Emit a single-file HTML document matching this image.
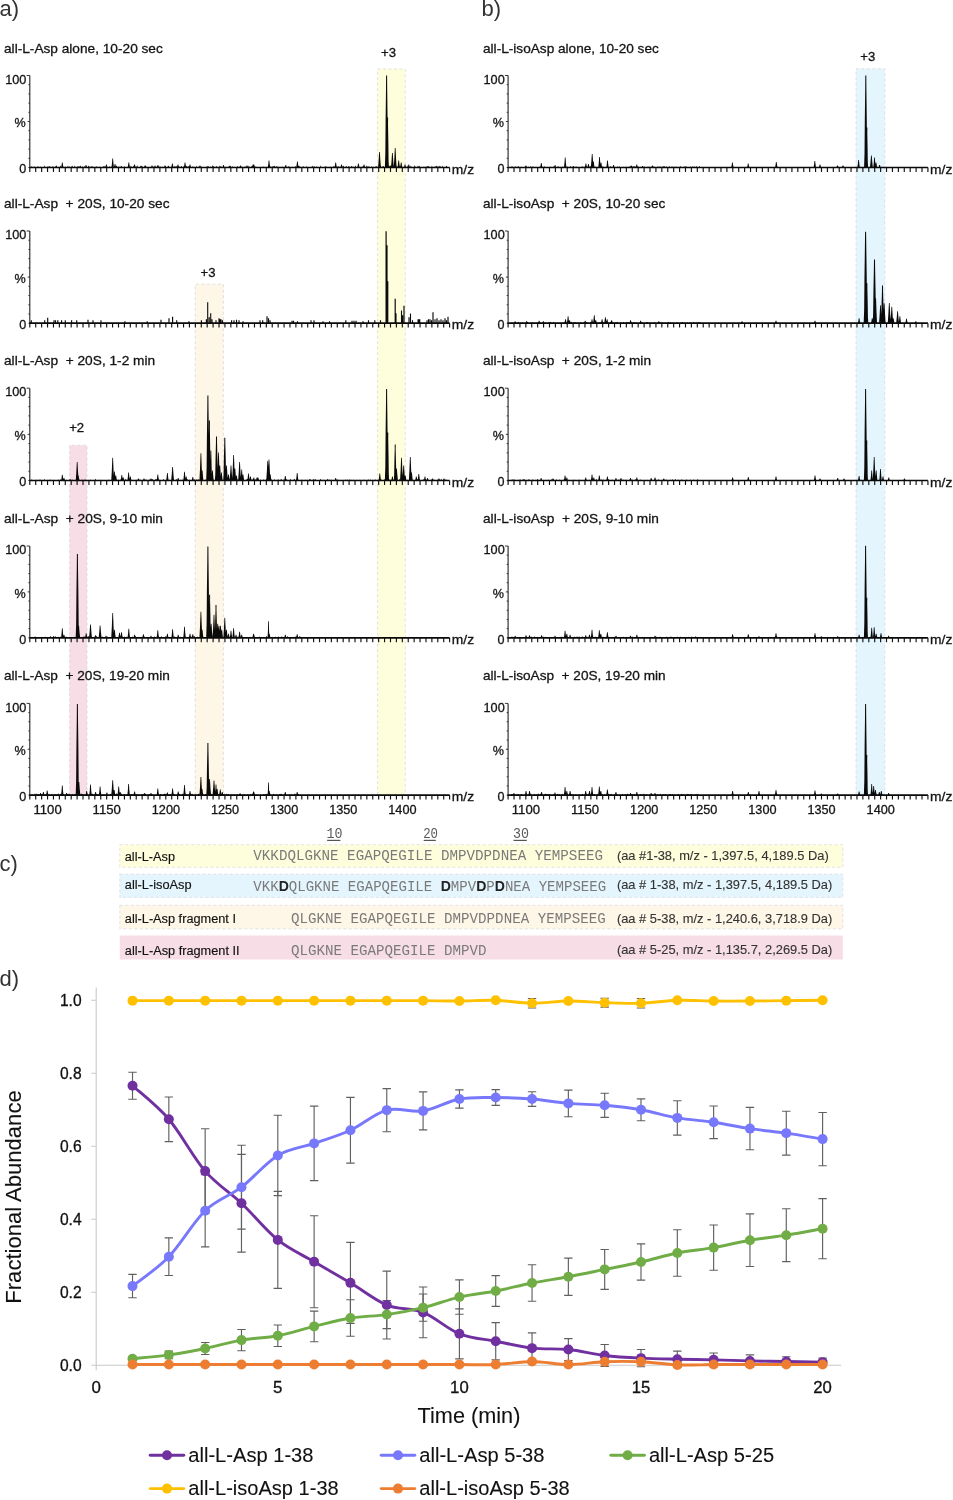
<!DOCTYPE html>
<html lang="en">
<head>
<meta charset="utf-8">
<title>Figure: proteasome digestion of all-L-Asp and all-L-isoAsp peptides</title>
<style>
html,body{margin:0;padding:0;background:#fff;}
body{width:953px;height:1500px;overflow:hidden;}
svg{display:block;font-family:"Liberation Sans", Arial, Helvetica, sans-serif;}
text{white-space:pre;}
</style>
</head>
<body>
<svg width="953" height="1500" viewBox="0 0 953 1500">
<rect width="953" height="1500" fill="#fff"/>
<rect x="377.6" y="69.0" width="27.7" height="726.1" fill="#fefedc"/>
<path d="M377.6 795.1V69.0H405.3V795.1" fill="none" stroke="#d9d9d9" stroke-width="0.8" stroke-dasharray="3 2.5"/>
<rect x="195.3" y="284.2" width="28.1" height="510.9" fill="#fef6e6"/>
<path d="M195.3 795.1V284.2H223.4V795.1" fill="none" stroke="#d9d9d9" stroke-width="0.8" stroke-dasharray="3 2.5"/>
<rect x="69.6" y="445.3" width="17.4" height="349.8" fill="#f7dde6"/>
<path d="M69.6 795.1V445.3H87.0V795.1" fill="none" stroke="#d9d9d9" stroke-width="0.8" stroke-dasharray="3 2.5"/>
<rect x="856.1" y="68.8" width="28.7" height="726.3" fill="#e4f5fe"/>
<path d="M856.1 795.1V68.8H884.8V795.1" fill="none" stroke="#d9d9d9" stroke-width="0.8" stroke-dasharray="3 2.5"/>
<path d="M29.80 75.5V167.5" stroke="#222" stroke-width="1.1" fill="none"/>
<path d="M29.80 167.50h-1.4M29.80 158.30h-1.4M29.80 149.10h-1.4M29.80 139.90h-1.4M29.80 130.70h-1.4M29.80 121.50h-2.2M29.80 112.30h-1.4M29.80 103.10h-1.4M29.80 93.90h-1.4M29.80 84.70h-1.4M29.80 75.50h-3.2" stroke="#222" stroke-width="0.9" fill="none"/>
<path d="M29.30 167.50H449.62" stroke="#0a0a0a" stroke-width="1.7" fill="none"/>
<path d="M29.80 167.50v4.4M35.71 167.50v4.4M41.63 167.50v4.4M47.54 167.50v4.4M53.45 167.50v4.4M59.37 167.50v4.4M65.28 167.50v4.4M71.19 167.50v4.4M77.10 167.50v4.4M83.02 167.50v4.4M88.93 167.50v4.4M94.84 167.50v4.4M100.76 167.50v4.4M106.67 167.50v4.4M112.58 167.50v4.4M118.50 167.50v4.4M124.41 167.50v4.4M130.32 167.50v4.4M136.23 167.50v4.4M142.15 167.50v4.4M148.06 167.50v4.4M153.97 167.50v4.4M159.89 167.50v4.4M165.80 167.50v4.4M171.71 167.50v4.4M177.63 167.50v4.4M183.54 167.50v4.4M189.45 167.50v4.4M195.36 167.50v4.4M201.28 167.50v4.4M207.19 167.50v4.4M213.10 167.50v4.4M219.02 167.50v4.4M224.93 167.50v4.4M230.84 167.50v4.4M236.76 167.50v4.4M242.67 167.50v4.4M248.58 167.50v4.4M254.49 167.50v4.4M260.41 167.50v4.4M266.32 167.50v4.4M272.23 167.50v4.4M278.15 167.50v4.4M284.06 167.50v4.4M289.97 167.50v4.4M295.89 167.50v4.4M301.80 167.50v4.4M307.71 167.50v4.4M313.62 167.50v4.4M319.54 167.50v4.4M325.45 167.50v4.4M331.36 167.50v4.4M337.28 167.50v4.4M343.19 167.50v4.4M349.10 167.50v4.4M355.02 167.50v4.4M360.93 167.50v4.4M366.84 167.50v4.4M372.75 167.50v4.4M378.67 167.50v4.4M384.58 167.50v4.4M390.49 167.50v4.4M396.41 167.50v4.4M402.32 167.50v4.4M408.23 167.50v4.4M414.15 167.50v4.4M420.06 167.50v4.4M425.97 167.50v4.4M431.88 167.50v4.4M437.80 167.50v4.4M443.71 167.50v4.4M449.62 167.50v4.4" stroke="#111" stroke-width="1.15" fill="none"/>
<text x="26.4" y="83.7" font-size="12.8" fill="#141414" stroke="#141414" stroke-width="0.3" text-anchor="end" textLength="21.2" lengthAdjust="spacingAndGlyphs">100</text>
<text x="25.6" y="127.1" font-size="12.8" fill="#141414" stroke="#141414" stroke-width="0.3" text-anchor="end" textLength="11.2" lengthAdjust="spacingAndGlyphs">%</text>
<text x="26.2" y="173.4" font-size="13.0" fill="#141414" stroke="#141414" stroke-width="0.3" text-anchor="end" textLength="7.0" lengthAdjust="spacingAndGlyphs">0</text>
<text x="451.8" y="173.6" font-size="13.5" fill="#141414" stroke="#141414" stroke-width="0.3" textLength="22.3" lengthAdjust="spacingAndGlyphs">m/z</text>
<path d="M61.07 167.50L61.56 165.25L61.95 162.50h0.70L63.04 165.25L63.53 167.50zM84.77 167.50L85.26 166.38L85.65 165.00h0.70L86.74 166.38L87.23 167.50zM105.17 167.50L105.66 166.15L106.05 164.50h0.70L107.14 166.15L107.63 167.50zM111.47 167.50L111.96 163.45L112.35 158.50h0.70L113.44 163.45L113.93 167.50zM113.77 167.50L114.26 165.93L114.65 164.00h0.70L115.74 165.93L116.23 167.50zM127.57 167.50L128.06 165.25L128.45 162.50h0.70L129.54 165.25L130.03 167.50zM133.37 167.50L133.86 166.15L134.25 164.50h0.70L135.34 166.15L135.83 167.50zM143.77 167.50L144.26 166.60L144.65 165.50h0.70L145.74 166.60L146.23 167.50zM150.77 167.50L151.26 166.60L151.65 165.50h0.70L152.74 166.60L153.23 167.50zM156.77 167.50L157.26 166.38L157.65 165.00h0.70L158.74 166.38L159.23 167.50zM163.77 167.50L164.26 166.60L164.65 165.50h0.70L165.74 166.60L166.23 167.50zM171.17 167.50L171.66 165.70L172.05 163.50h0.70L173.14 165.70L173.63 167.50zM176.77 167.50L177.26 166.15L177.65 164.50h0.70L178.74 166.15L179.23 167.50zM183.77 167.50L184.26 165.25L184.65 162.50h0.70L185.74 165.25L186.23 167.50zM188.77 167.50L189.26 166.15L189.65 164.50h0.70L190.74 166.15L191.23 167.50zM198.77 167.50L199.26 166.60L199.65 165.50h0.70L200.74 166.60L201.23 167.50zM206.77 167.50L207.26 166.82L207.65 166.00h0.70L208.74 166.82L209.23 167.50zM222.27 167.50L222.76 166.38L223.15 165.00h0.70L224.24 166.38L224.73 167.50zM239.17 167.50L239.66 166.60L240.05 165.50h0.70L241.14 166.60L241.63 167.50zM245.77 167.50L246.26 166.60L246.65 165.50h0.70L247.74 166.60L248.23 167.50zM251.77 167.50L252.26 166.15L252.65 164.50h0.70L253.74 166.15L254.23 167.50zM252.67 167.50L253.16 166.15L253.55 164.50h0.70L254.64 166.15L255.13 167.50zM267.77 167.50L268.26 164.35L268.65 160.50h0.70L269.74 164.35L270.23 167.50zM284.57 167.50L285.06 166.38L285.45 165.00h0.70L286.54 166.38L287.03 167.50zM296.17 167.50L296.66 164.80L297.05 161.50h0.70L298.14 164.80L298.63 167.50zM334.47 167.50L334.96 165.25L335.35 162.50h0.70L336.44 165.25L336.93 167.50zM340.27 167.50L340.76 166.15L341.15 164.50h0.70L342.24 166.15L342.73 167.50zM357.17 167.50L357.66 165.70L358.05 163.50h0.70L359.14 165.70L359.63 167.50zM362.77 167.50L363.26 166.15L363.65 164.50h0.70L364.74 166.15L365.23 167.50zM378.04 167.50L378.63 160.48L379.15 151.90h0.70L380.37 160.48L380.96 167.50zM384.87 167.50L385.32 153.70L385.60 121.50L386.01 88.38L386.10 75.50h1.00L387.19 88.38L387.60 121.50L387.88 153.70L388.33 167.50zM386.30 167.50L386.64 160.00L386.85 142.50L387.16 124.50L387.10 117.50h1.00L388.04 124.50L388.35 142.50L388.56 160.00L388.90 167.50zM390.94 167.50L391.53 161.02L392.05 153.10h0.70L393.27 161.02L393.86 167.50zM393.74 167.50L394.33 158.77L394.85 148.10h0.70L396.07 158.77L396.66 167.50zM397.47 167.50L397.96 164.35L398.35 160.50h0.70L399.44 164.35L399.93 167.50zM399.97 167.50L400.46 165.25L400.85 162.50h0.70L401.94 165.25L402.43 167.50zM403.77 167.50L404.26 166.15L404.65 164.50h0.70L405.74 166.15L406.23 167.50zM407.57 167.50L408.06 166.15L408.45 164.50h0.70L409.54 166.15L410.03 167.50zM30.88 167.50L31.80 165.99L32.72 167.50zM33.32 167.50L34.53 166.57L35.74 167.50zM37.28 167.50L38.01 165.85L38.73 167.50zM39.78 167.50L40.57 166.38L41.35 167.50zM43.79 167.50L44.43 165.31L45.06 167.50zM47.12 167.50L48.01 165.93L48.89 167.50zM48.91 167.50L49.86 165.82L50.80 167.50zM52.21 167.50L52.91 165.84L53.61 167.50zM54.89 167.50L56.22 165.33L57.54 167.50zM58.45 167.50L59.06 166.83L59.66 167.50zM59.63 167.50L60.46 165.39L61.29 167.50zM61.72 167.50L62.56 165.46L63.39 167.50zM64.56 167.50L65.21 166.20L65.85 167.50zM67.24 167.50L67.96 165.55L68.68 167.50zM69.00 167.50L69.63 166.24L70.26 167.50zM71.03 167.50L72.12 165.59L73.21 167.50zM74.01 167.50L74.72 165.53L75.43 167.50zM76.37 167.50L77.42 166.30L78.47 167.50zM78.09 167.50L78.76 165.66L79.43 167.50zM78.95 167.50L80.26 165.61L81.57 167.50zM81.78 167.50L82.56 166.24L83.35 167.50zM83.65 167.50L84.39 165.91L85.12 167.50zM85.02 167.50L85.74 166.17L86.47 167.50zM87.51 167.50L88.69 165.59L89.87 167.50zM90.20 167.50L91.13 166.34L92.06 167.50zM91.30 167.50L92.15 165.76L92.99 167.50zM93.17 167.50L94.10 166.77L95.04 167.50zM95.60 167.50L96.85 166.28L98.10 167.50zM98.88 167.50L99.87 166.51L100.87 167.50zM102.55 167.50L103.60 166.07L104.66 167.50zM103.85 167.50L104.79 166.12L105.74 167.50zM105.96 167.50L107.00 166.23L108.03 167.50zM108.89 167.50L109.61 166.12L110.34 167.50zM111.02 167.50L111.94 165.35L112.85 167.50zM112.04 167.50L113.04 166.90L114.04 167.50zM113.51 167.50L114.19 166.75L114.87 167.50zM115.59 167.50L116.56 165.31L117.52 167.50zM117.96 167.50L118.93 166.20L119.91 167.50zM120.00 167.50L121.27 165.74L122.55 167.50zM123.28 167.50L124.37 166.22L125.45 167.50zM127.32 167.50L128.09 166.65L128.87 167.50zM129.87 167.50L130.95 165.80L132.03 167.50zM132.76 167.50L133.72 165.57L134.68 167.50zM136.21 167.50L137.14 165.36L138.07 167.50zM139.45 167.50L140.72 165.75L141.98 167.50zM140.68 167.50L141.86 165.44L143.03 167.50zM144.93 167.50L145.74 165.33L146.56 167.50zM147.71 167.50L148.75 166.67L149.80 167.50zM151.65 167.50L152.51 166.59L153.37 167.50zM153.00 167.50L153.75 166.59L154.51 167.50zM153.77 167.50L155.04 165.30L156.30 167.50zM156.31 167.50L157.43 165.71L158.55 167.50zM158.90 167.50L160.00 166.22L161.10 167.50zM161.79 167.50L162.66 166.47L163.54 167.50zM164.79 167.50L165.55 165.90L166.30 167.50zM167.12 167.50L168.38 165.50L169.63 167.50zM170.41 167.50L171.33 166.79L172.25 167.50zM171.81 167.50L172.60 166.81L173.39 167.50zM173.90 167.50L174.97 165.68L176.04 167.50zM175.84 167.50L176.82 165.79L177.80 167.50zM178.41 167.50L179.34 166.48L180.27 167.50zM180.40 167.50L181.36 165.74L182.33 167.50zM182.74 167.50L183.70 166.14L184.66 167.50zM185.57 167.50L186.77 165.75L187.97 167.50zM187.67 167.50L188.99 165.63L190.31 167.50zM192.32 167.50L192.97 165.75L193.62 167.50zM195.90 167.50L196.51 165.56L197.12 167.50zM197.34 167.50L198.49 166.38L199.65 167.50zM200.58 167.50L201.32 166.45L202.06 167.50zM201.63 167.50L202.83 166.75L204.02 167.50zM205.48 167.50L206.64 166.55L207.79 167.50zM209.46 167.50L210.49 166.59L211.52 167.50zM211.55 167.50L212.81 165.34L214.06 167.50zM212.62 167.50L213.85 166.58L215.09 167.50zM215.37 167.50L216.58 166.06L217.78 167.50zM219.02 167.50L219.87 165.37L220.71 167.50zM220.37 167.50L221.01 165.79L221.65 167.50zM222.81 167.50L223.71 165.52L224.61 167.50zM225.79 167.50L226.51 166.63L227.23 167.50zM227.98 167.50L229.33 165.52L230.68 167.50zM229.44 167.50L230.42 165.43L231.41 167.50zM231.44 167.50L232.47 166.26L233.50 167.50zM233.26 167.50L234.51 166.67L235.76 167.50zM236.49 167.50L237.63 165.92L238.78 167.50zM240.37 167.50L241.59 166.62L242.81 167.50zM244.04 167.50L245.06 166.35L246.08 167.50zM246.51 167.50L247.43 166.59L248.36 167.50zM248.15 167.50L248.89 165.41L249.63 167.50zM250.46 167.50L251.79 165.99L253.12 167.50zM254.29 167.50L255.17 166.32L256.06 167.50zM255.49 167.50L256.32 166.82L257.16 167.50zM259.44 167.50L260.17 166.82L260.91 167.50zM262.34 167.50L263.08 166.32L263.82 167.50zM265.88 167.50L266.92 166.83L267.97 167.50zM268.46 167.50L269.21 166.35L269.96 167.50zM269.53 167.50L270.70 166.25L271.86 167.50zM271.84 167.50L273.10 165.66L274.36 167.50zM273.59 167.50L274.62 165.49L275.66 167.50zM275.62 167.50L276.88 166.08L278.15 167.50zM277.74 167.50L279.06 166.75L280.38 167.50zM279.27 167.50L280.42 166.73L281.56 167.50zM281.26 167.50L282.35 166.44L283.44 167.50zM284.74 167.50L286.02 166.35L287.30 167.50zM287.88 167.50L288.88 165.93L289.88 167.50zM288.81 167.50L289.92 166.65L291.03 167.50zM291.92 167.50L293.00 166.74L294.08 167.50zM294.52 167.50L295.42 165.98L296.32 167.50zM295.75 167.50L297.07 166.33L298.40 167.50zM297.64 167.50L298.64 165.52L299.64 167.50zM299.25 167.50L299.87 165.60L300.48 167.50zM302.09 167.50L303.38 166.36L304.67 167.50zM305.49 167.50L306.56 166.33L307.63 167.50zM309.76 167.50L310.52 166.63L311.27 167.50zM311.60 167.50L312.39 165.59L313.17 167.50zM313.09 167.50L314.12 165.92L315.16 167.50zM315.76 167.50L316.38 166.02L317.00 167.50zM316.76 167.50L317.40 166.86L318.04 167.50zM320.02 167.50L320.71 165.33L321.40 167.50zM321.94 167.50L322.87 166.88L323.79 167.50zM324.57 167.50L325.85 165.90L327.13 167.50zM327.62 167.50L328.51 166.82L329.39 167.50zM330.26 167.50L330.88 166.36L331.51 167.50zM332.63 167.50L333.76 166.12L334.90 167.50zM335.06 167.50L335.86 166.79L336.66 167.50zM336.67 167.50L337.39 166.16L338.10 167.50zM337.92 167.50L338.62 166.06L339.33 167.50zM338.81 167.50L339.94 166.71L341.07 167.50zM342.32 167.50L343.36 165.60L344.39 167.50zM345.34 167.50L346.26 165.69L347.18 167.50zM347.72 167.50L348.79 165.76L349.87 167.50zM350.62 167.50L351.62 165.87L352.62 167.50zM352.14 167.50L353.26 166.41L354.38 167.50zM354.64 167.50L355.52 165.53L356.40 167.50zM357.70 167.50L358.52 166.72L359.35 167.50zM361.01 167.50L362.08 166.62L363.15 167.50zM362.22 167.50L363.16 165.93L364.10 167.50zM365.68 167.50L366.86 165.58L368.04 167.50zM368.16 167.50L368.87 165.83L369.59 167.50zM370.39 167.50L371.34 166.28L372.30 167.50zM372.18 167.50L373.17 166.56L374.16 167.50zM374.81 167.50L376.13 166.00L377.44 167.50zM377.72 167.50L378.80 166.66L379.88 167.50zM380.05 167.50L380.75 165.40L381.44 167.50zM381.79 167.50L383.12 165.82L384.45 167.50zM384.50 167.50L385.69 166.29L386.87 167.50zM387.90 167.50L389.05 165.44L390.19 167.50zM389.13 167.50L390.43 165.31L391.73 167.50zM391.51 167.50L392.73 165.85L393.96 167.50zM395.82 167.50L396.49 165.74L397.15 167.50zM396.75 167.50L397.69 166.31L398.63 167.50zM398.45 167.50L399.62 165.70L400.80 167.50zM401.08 167.50L401.82 165.78L402.57 167.50zM404.96 167.50L405.68 166.51L406.39 167.50zM406.77 167.50L407.82 165.52L408.87 167.50zM409.99 167.50L410.88 165.59L411.77 167.50zM413.76 167.50L414.76 165.32L415.76 167.50zM416.96 167.50L418.01 165.53L419.05 167.50zM418.46 167.50L419.40 165.85L420.34 167.50zM422.35 167.50L422.96 166.57L423.57 167.50zM423.61 167.50L424.50 166.63L425.39 167.50zM425.08 167.50L426.12 166.37L427.16 167.50zM426.72 167.50L427.59 166.12L428.45 167.50zM427.62 167.50L428.60 165.82L429.58 167.50zM431.29 167.50L431.93 165.50L432.57 167.50zM433.82 167.50L435.07 166.17L436.33 167.50zM435.50 167.50L436.42 165.56L437.34 167.50zM436.44 167.50L437.70 166.16L438.95 167.50zM438.26 167.50L438.92 166.29L439.58 167.50zM438.92 167.50L439.94 165.58L440.95 167.50zM441.99 167.50L442.65 165.46L443.31 167.50zM445.24 167.50L446.48 165.70L447.72 167.50z" fill="#0a0a0a"/>
<text x="4.0" y="52.6" font-size="13.5" fill="#141414" stroke="#141414" stroke-width="0.3" textLength="158.8" lengthAdjust="spacingAndGlyphs" xml:space="preserve">all-L-Asp alone, 10-20 sec</text>
<path d="M508.10 75.5V167.5" stroke="#222" stroke-width="1.1" fill="none"/>
<path d="M508.10 167.50h-1.4M508.10 158.30h-1.4M508.10 149.10h-1.4M508.10 139.90h-1.4M508.10 130.70h-1.4M508.10 121.50h-2.2M508.10 112.30h-1.4M508.10 103.10h-1.4M508.10 93.90h-1.4M508.10 84.70h-1.4M508.10 75.50h-3.2" stroke="#222" stroke-width="0.9" fill="none"/>
<path d="M507.60 167.50H927.92" stroke="#0a0a0a" stroke-width="1.7" fill="none"/>
<path d="M508.10 167.50v4.4M514.01 167.50v4.4M519.93 167.50v4.4M525.84 167.50v4.4M531.75 167.50v4.4M537.67 167.50v4.4M543.58 167.50v4.4M549.49 167.50v4.4M555.40 167.50v4.4M561.32 167.50v4.4M567.23 167.50v4.4M573.14 167.50v4.4M579.06 167.50v4.4M584.97 167.50v4.4M590.88 167.50v4.4M596.80 167.50v4.4M602.71 167.50v4.4M608.62 167.50v4.4M614.53 167.50v4.4M620.45 167.50v4.4M626.36 167.50v4.4M632.27 167.50v4.4M638.19 167.50v4.4M644.10 167.50v4.4M650.01 167.50v4.4M655.93 167.50v4.4M661.84 167.50v4.4M667.75 167.50v4.4M673.66 167.50v4.4M679.58 167.50v4.4M685.49 167.50v4.4M691.40 167.50v4.4M697.32 167.50v4.4M703.23 167.50v4.4M709.14 167.50v4.4M715.06 167.50v4.4M720.97 167.50v4.4M726.88 167.50v4.4M732.79 167.50v4.4M738.71 167.50v4.4M744.62 167.50v4.4M750.53 167.50v4.4M756.45 167.50v4.4M762.36 167.50v4.4M768.27 167.50v4.4M774.19 167.50v4.4M780.10 167.50v4.4M786.01 167.50v4.4M791.92 167.50v4.4M797.84 167.50v4.4M803.75 167.50v4.4M809.66 167.50v4.4M815.58 167.50v4.4M821.49 167.50v4.4M827.40 167.50v4.4M833.32 167.50v4.4M839.23 167.50v4.4M845.14 167.50v4.4M851.05 167.50v4.4M856.97 167.50v4.4M862.88 167.50v4.4M868.79 167.50v4.4M874.71 167.50v4.4M880.62 167.50v4.4M886.53 167.50v4.4M892.45 167.50v4.4M898.36 167.50v4.4M904.27 167.50v4.4M910.18 167.50v4.4M916.10 167.50v4.4M922.01 167.50v4.4M927.92 167.50v4.4" stroke="#111" stroke-width="1.15" fill="none"/>
<text x="504.7" y="83.7" font-size="12.8" fill="#141414" stroke="#141414" stroke-width="0.3" text-anchor="end" textLength="21.2" lengthAdjust="spacingAndGlyphs">100</text>
<text x="503.9" y="127.1" font-size="12.8" fill="#141414" stroke="#141414" stroke-width="0.3" text-anchor="end" textLength="11.2" lengthAdjust="spacingAndGlyphs">%</text>
<text x="504.5" y="173.4" font-size="13.0" fill="#141414" stroke="#141414" stroke-width="0.3" text-anchor="end" textLength="7.0" lengthAdjust="spacingAndGlyphs">0</text>
<text x="930.1" y="173.6" font-size="13.5" fill="#141414" stroke="#141414" stroke-width="0.3" textLength="22.3" lengthAdjust="spacingAndGlyphs">m/z</text>
<path d="M524.67 167.50L525.16 166.60L525.55 165.50h0.70L526.64 166.60L527.13 167.50zM540.07 167.50L540.56 165.47L540.95 163.00h0.70L542.04 165.47L542.53 167.50zM553.87 167.50L554.36 166.38L554.75 165.00h0.70L555.84 166.38L556.33 167.50zM563.97 167.50L564.46 163.00L564.85 157.50h0.70L565.94 163.00L566.43 167.50zM572.07 167.50L572.56 166.82L572.95 166.00h0.70L574.04 166.82L574.53 167.50zM584.67 167.50L585.16 165.70L585.55 163.50h0.70L586.64 165.70L587.13 167.50zM587.17 167.50L587.66 165.93L588.05 164.00h0.70L589.14 165.93L589.63 167.50zM590.74 167.50L591.33 161.47L591.85 154.10h0.70L593.07 161.47L593.66 167.50zM592.17 167.50L592.66 164.80L593.05 161.50h0.70L594.14 164.80L594.63 167.50zM598.27 167.50L598.76 162.78L599.15 157.00h0.70L600.24 162.78L600.73 167.50zM599.77 167.50L600.26 165.25L600.65 162.50h0.70L601.74 165.25L602.23 167.50zM606.27 167.50L606.76 164.35L607.15 160.50h0.70L608.24 164.35L608.73 167.50zM612.37 167.50L612.86 166.38L613.25 165.00h0.70L614.34 166.38L614.83 167.50zM629.97 167.50L630.46 166.60L630.85 165.50h0.70L631.94 166.60L632.43 167.50zM635.57 167.50L636.06 166.15L636.45 164.50h0.70L637.54 166.15L638.03 167.50zM641.27 167.50L641.76 166.82L642.15 166.00h0.70L643.24 166.82L643.73 167.50zM651.37 167.50L651.86 166.60L652.25 165.50h0.70L653.34 166.60L653.83 167.50zM662.77 167.50L663.26 166.82L663.65 166.00h0.70L664.74 166.82L665.23 167.50zM731.17 167.50L731.66 165.25L732.05 162.50h0.70L733.14 165.25L733.63 167.50zM746.97 167.50L747.46 165.70L747.85 163.50h0.70L748.94 165.70L749.43 167.50zM775.07 167.50L775.56 165.03L775.95 162.00h0.70L777.04 165.03L777.53 167.50zM813.57 167.50L814.06 164.57L814.45 161.00h0.70L815.54 164.57L816.03 167.50zM818.77 167.50L819.26 166.15L819.65 164.50h0.70L820.74 166.15L821.23 167.50zM836.27 167.50L836.76 166.60L837.15 165.50h0.70L838.24 166.60L838.73 167.50zM841.77 167.50L842.26 166.60L842.65 165.50h0.70L843.74 166.60L844.23 167.50zM857.37 167.50L857.86 164.12L858.25 160.00h0.70L859.34 164.12L859.83 167.50zM864.07 167.50L864.52 153.70L864.80 121.50L865.21 88.38L865.30 75.50h1.00L866.39 88.38L866.80 121.50L867.08 153.70L867.53 167.50zM865.71 167.50L866.02 161.50L866.21 147.50L866.50 133.10L866.40 127.50h1.00L867.30 133.10L867.59 147.50L867.78 161.50L868.09 167.50zM869.94 167.50L870.53 162.10L871.05 155.50h0.70L872.27 162.10L872.86 167.50zM873.27 167.50L873.76 163.00L874.15 157.50h0.70L875.24 163.00L875.73 167.50zM874.77 167.50L875.26 165.25L875.65 162.50h0.70L876.74 165.25L877.23 167.50zM878.37 167.50L878.86 166.38L879.25 165.00h0.70L880.34 166.38L880.83 167.50zM510.89 167.50L512.00 165.99L513.11 167.50zM514.50 167.50L515.30 166.00L516.09 167.50zM516.95 167.50L518.21 166.00L519.46 167.50zM520.02 167.50L520.93 166.73L521.83 167.50zM524.07 167.50L524.91 166.80L525.75 167.50zM528.00 167.50L528.76 166.45L529.51 167.50zM529.86 167.50L530.71 165.99L531.56 167.50zM531.79 167.50L532.99 166.27L534.19 167.50zM534.44 167.50L535.47 166.82L536.50 167.50zM535.83 167.50L536.57 166.81L537.31 167.50zM538.53 167.50L539.65 166.62L540.77 167.50zM540.52 167.50L541.14 166.78L541.76 167.50zM543.49 167.50L544.26 166.04L545.02 167.50zM544.89 167.50L545.97 166.89L547.06 167.50zM546.79 167.50L547.87 166.76L548.96 167.50zM549.96 167.50L550.67 166.45L551.39 167.50zM552.66 167.50L553.59 166.34L554.51 167.50zM553.84 167.50L555.08 165.97L556.33 167.50zM557.12 167.50L558.15 165.90L559.19 167.50zM559.13 167.50L560.19 166.78L561.24 167.50zM561.40 167.50L562.75 166.46L564.09 167.50zM565.00 167.50L566.26 166.79L567.53 167.50zM566.43 167.50L567.27 166.25L568.11 167.50zM569.46 167.50L570.46 165.95L571.46 167.50zM572.65 167.50L573.75 166.85L574.85 167.50zM574.25 167.50L575.10 166.44L575.95 167.50zM575.65 167.50L576.32 166.15L576.99 167.50zM577.00 167.50L578.09 166.81L579.19 167.50zM579.37 167.50L580.00 166.86L580.62 167.50zM581.04 167.50L581.65 166.39L582.26 167.50zM581.73 167.50L582.73 166.23L583.72 167.50zM583.44 167.50L584.13 166.59L584.83 167.50zM585.19 167.50L585.96 166.51L586.72 167.50zM586.72 167.50L587.55 166.67L588.37 167.50zM589.13 167.50L590.21 166.01L591.30 167.50zM591.82 167.50L592.56 166.90L593.30 167.50zM594.23 167.50L595.46 166.49L596.70 167.50zM598.31 167.50L599.19 166.60L600.06 167.50zM600.41 167.50L601.08 166.22L601.76 167.50zM602.03 167.50L602.91 166.02L603.79 167.50zM605.59 167.50L606.82 166.50L608.05 167.50zM608.18 167.50L609.21 166.80L610.24 167.50zM609.72 167.50L610.84 165.98L611.97 167.50zM612.42 167.50L613.43 165.98L614.44 167.50zM616.60 167.50L617.33 166.19L618.07 167.50zM618.54 167.50L619.21 166.05L619.89 167.50zM622.00 167.50L623.16 166.86L624.32 167.50zM624.96 167.50L626.01 166.49L627.06 167.50zM627.95 167.50L628.76 166.54L629.57 167.50zM628.65 167.50L629.91 166.24L631.17 167.50zM631.14 167.50L632.04 166.04L632.93 167.50zM632.50 167.50L633.80 166.10L635.09 167.50zM634.24 167.50L635.07 166.03L635.91 167.50zM637.06 167.50L638.40 166.61L639.74 167.50zM639.77 167.50L640.41 166.69L641.05 167.50zM640.60 167.50L641.81 166.81L643.03 167.50zM642.09 167.50L642.87 166.78L643.65 167.50zM643.69 167.50L644.30 166.12L644.90 167.50zM646.63 167.50L647.34 166.55L648.05 167.50zM648.25 167.50L649.03 166.37L649.82 167.50zM650.20 167.50L651.21 166.51L652.21 167.50zM653.25 167.50L654.31 166.61L655.37 167.50zM656.28 167.50L657.46 166.60L658.63 167.50zM657.84 167.50L658.71 166.41L659.57 167.50zM658.84 167.50L660.08 166.24L661.32 167.50zM661.26 167.50L662.54 166.55L663.81 167.50zM665.49 167.50L666.51 166.27L667.53 167.50zM668.31 167.50L669.43 166.20L670.54 167.50zM670.88 167.50L672.04 166.15L673.20 167.50zM674.10 167.50L674.98 166.37L675.86 167.50zM675.79 167.50L676.62 166.39L677.45 167.50zM677.75 167.50L679.03 166.72L680.31 167.50zM679.39 167.50L680.42 166.02L681.44 167.50zM683.42 167.50L684.15 166.02L684.88 167.50zM684.88 167.50L685.97 165.90L687.07 167.50zM686.56 167.50L687.23 166.64L687.90 167.50zM688.51 167.50L689.14 166.82L689.77 167.50zM689.14 167.50L690.27 166.43L691.41 167.50zM691.71 167.50L692.80 166.23L693.89 167.50zM693.23 167.50L694.20 166.20L695.18 167.50zM695.52 167.50L696.46 165.94L697.40 167.50zM698.55 167.50L699.52 166.12L700.48 167.50z" fill="#0a0a0a"/>
<text x="483.0" y="52.6" font-size="13.5" fill="#141414" stroke="#141414" stroke-width="0.3" textLength="175.8" lengthAdjust="spacingAndGlyphs" xml:space="preserve">all-L-isoAsp alone, 10-20 sec</text>
<path d="M29.80 231.0V323.2" stroke="#222" stroke-width="1.1" fill="none"/>
<path d="M29.80 323.20h-1.4M29.80 313.98h-1.4M29.80 304.76h-1.4M29.80 295.54h-1.4M29.80 286.32h-1.4M29.80 277.10h-2.2M29.80 267.88h-1.4M29.80 258.66h-1.4M29.80 249.44h-1.4M29.80 240.22h-1.4M29.80 231.00h-3.2" stroke="#222" stroke-width="0.9" fill="none"/>
<path d="M29.30 323.20H449.62" stroke="#0a0a0a" stroke-width="1.7" fill="none"/>
<path d="M29.80 323.20v4.4M35.71 323.20v4.4M41.63 323.20v4.4M47.54 323.20v4.4M53.45 323.20v4.4M59.37 323.20v4.4M65.28 323.20v4.4M71.19 323.20v4.4M77.10 323.20v4.4M83.02 323.20v4.4M88.93 323.20v4.4M94.84 323.20v4.4M100.76 323.20v4.4M106.67 323.20v4.4M112.58 323.20v4.4M118.50 323.20v4.4M124.41 323.20v4.4M130.32 323.20v4.4M136.23 323.20v4.4M142.15 323.20v4.4M148.06 323.20v4.4M153.97 323.20v4.4M159.89 323.20v4.4M165.80 323.20v4.4M171.71 323.20v4.4M177.63 323.20v4.4M183.54 323.20v4.4M189.45 323.20v4.4M195.36 323.20v4.4M201.28 323.20v4.4M207.19 323.20v4.4M213.10 323.20v4.4M219.02 323.20v4.4M224.93 323.20v4.4M230.84 323.20v4.4M236.76 323.20v4.4M242.67 323.20v4.4M248.58 323.20v4.4M254.49 323.20v4.4M260.41 323.20v4.4M266.32 323.20v4.4M272.23 323.20v4.4M278.15 323.20v4.4M284.06 323.20v4.4M289.97 323.20v4.4M295.89 323.20v4.4M301.80 323.20v4.4M307.71 323.20v4.4M313.62 323.20v4.4M319.54 323.20v4.4M325.45 323.20v4.4M331.36 323.20v4.4M337.28 323.20v4.4M343.19 323.20v4.4M349.10 323.20v4.4M355.02 323.20v4.4M360.93 323.20v4.4M366.84 323.20v4.4M372.75 323.20v4.4M378.67 323.20v4.4M384.58 323.20v4.4M390.49 323.20v4.4M396.41 323.20v4.4M402.32 323.20v4.4M408.23 323.20v4.4M414.15 323.20v4.4M420.06 323.20v4.4M425.97 323.20v4.4M431.88 323.20v4.4M437.80 323.20v4.4M443.71 323.20v4.4M449.62 323.20v4.4" stroke="#111" stroke-width="1.15" fill="none"/>
<text x="26.4" y="239.2" font-size="12.8" fill="#141414" stroke="#141414" stroke-width="0.3" text-anchor="end" textLength="21.2" lengthAdjust="spacingAndGlyphs">100</text>
<text x="25.6" y="282.7" font-size="12.8" fill="#141414" stroke="#141414" stroke-width="0.3" text-anchor="end" textLength="11.2" lengthAdjust="spacingAndGlyphs">%</text>
<text x="26.2" y="329.1" font-size="13.0" fill="#141414" stroke="#141414" stroke-width="0.3" text-anchor="end" textLength="7.0" lengthAdjust="spacingAndGlyphs">0</text>
<text x="451.8" y="329.3" font-size="13.5" fill="#141414" stroke="#141414" stroke-width="0.3" textLength="22.3" lengthAdjust="spacingAndGlyphs">m/z</text>
<path d="M30.73 323.20v-3.00h1.15v3.00zM44.12 323.20v-3.00h1.15v3.00zM47.12 323.20v-5.50h1.15v5.50zM53.42 323.20v-3.00h1.15v3.00zM54.92 323.20v-3.00h1.15v3.00zM57.22 323.20v-3.00h1.15v3.00zM61.02 323.20v-3.00h1.15v3.00zM64.72 323.20v-3.00h1.15v3.00zM71.02 323.20v-3.00h1.15v3.00zM76.12 323.20v-3.00h1.15v3.00zM87.42 323.20v-3.50h1.15v3.50zM92.42 323.20v-3.00h1.15v3.00zM100.42 323.20v-3.00h1.15v3.00zM124.42 323.20v-2.00h1.15v2.00zM146.62 323.20v-2.00h1.15v2.00zM160.43 323.20v-3.50h1.15v3.50zM168.43 323.20v-5.00h1.15v5.00zM172.03 323.20v-6.50h1.15v6.50zM176.12 323.20v-3.00h1.15v3.00zM188.43 323.20v-2.00h1.15v2.00zM200.83 323.20v-3.00h1.15v3.00zM205.83 323.20v-4.00h1.15v4.00zM207.15 323.20v-21.00h1.10v21.00zM208.62 323.20v-6.00h1.15v6.00zM210.15 323.20v-10.00h1.10v10.00zM211.43 323.20v-4.00h1.15v4.00zM215.43 323.20v-3.00h1.15v3.00zM218.43 323.20v-5.00h1.15v5.00zM219.43 323.20v-4.00h1.15v4.00zM220.43 323.20v-4.00h1.15v4.00zM221.93 323.20v-3.00h1.15v3.00zM231.03 323.20v-3.00h1.15v3.00zM233.43 323.20v-3.00h1.15v3.00zM235.93 323.20v-3.50h1.15v3.50zM238.43 323.20v-3.00h1.15v3.00zM242.43 323.20v-2.00h1.15v2.00zM259.43 323.20v-3.00h1.15v3.00zM262.12 323.20v-3.00h1.15v3.00zM266.43 323.20v-7.00h1.15v7.00zM267.93 323.20v-5.00h1.15v5.00zM269.43 323.20v-3.00h1.15v3.00zM291.43 323.20v-2.50h1.15v2.50zM292.93 323.20v-2.50h1.15v2.50zM296.93 323.20v-2.00h1.15v2.00zM310.43 323.20v-3.00h1.15v3.00zM313.43 323.20v-3.00h1.15v3.00zM322.43 323.20v-2.00h1.15v2.00zM328.93 323.20v-2.00h1.15v2.00zM345.23 323.20v-3.00h1.15v3.00zM351.43 323.20v-2.50h1.15v2.50zM353.43 323.20v-2.50h1.15v2.50zM355.43 323.20v-2.50h1.15v2.50zM362.43 323.20v-2.00h1.15v2.00zM367.93 323.20v-3.00h1.15v3.00zM374.23 323.20v-3.00h1.15v3.00zM379.93 323.20v-3.00h1.15v3.00zM385.50 323.20v-92.00h1.20v92.00zM386.60 323.20v-78.00h1.00v78.00zM387.45 323.20v-42.00h0.90v42.00zM394.60 323.20v-24.40h1.20v24.40zM395.65 323.20v-10.00h0.90v10.00zM400.95 323.20v-12.80h1.10v12.80zM402.03 323.20v-8.00h1.15v8.00zM403.40 323.20v-17.40h1.20v17.40zM408.43 323.20v-6.00h1.15v6.00zM409.95 323.20v-9.80h1.10v9.80zM411.93 323.20v-3.00h1.15v3.00zM417.50 323.20v-4.00h1.60v4.00zM418.70 323.20v-4.00h1.60v4.00zM426.43 323.20v-3.00h1.15v3.00zM427.93 323.20v-4.00h1.15v4.00zM429.43 323.20v-4.00h1.15v4.00zM430.93 323.20v-3.00h1.15v3.00zM432.43 323.20v-11.00h1.15v11.00zM434.43 323.20v-4.00h1.15v4.00zM436.43 323.20v-5.00h1.15v5.00zM438.43 323.20v-3.00h1.15v3.00zM440.43 323.20v-4.00h1.15v4.00zM442.43 323.20v-3.00h1.15v3.00zM444.43 323.20v-5.00h1.15v5.00zM445.93 323.20v-3.00h1.15v3.00zM447.43 323.20v-6.50h1.15v6.50z" fill="#0a0a0a"/>
<text x="4.0" y="207.8" font-size="13.5" fill="#141414" stroke="#141414" stroke-width="0.3" textLength="165.5" lengthAdjust="spacingAndGlyphs" xml:space="preserve">all-L-Asp  + 20S, 10-20 sec</text>
<path d="M508.10 231.0V323.2" stroke="#222" stroke-width="1.1" fill="none"/>
<path d="M508.10 323.20h-1.4M508.10 313.98h-1.4M508.10 304.76h-1.4M508.10 295.54h-1.4M508.10 286.32h-1.4M508.10 277.10h-2.2M508.10 267.88h-1.4M508.10 258.66h-1.4M508.10 249.44h-1.4M508.10 240.22h-1.4M508.10 231.00h-3.2" stroke="#222" stroke-width="0.9" fill="none"/>
<path d="M507.60 323.20H927.92" stroke="#0a0a0a" stroke-width="1.7" fill="none"/>
<path d="M508.10 323.20v4.4M514.01 323.20v4.4M519.93 323.20v4.4M525.84 323.20v4.4M531.75 323.20v4.4M537.67 323.20v4.4M543.58 323.20v4.4M549.49 323.20v4.4M555.40 323.20v4.4M561.32 323.20v4.4M567.23 323.20v4.4M573.14 323.20v4.4M579.06 323.20v4.4M584.97 323.20v4.4M590.88 323.20v4.4M596.80 323.20v4.4M602.71 323.20v4.4M608.62 323.20v4.4M614.53 323.20v4.4M620.45 323.20v4.4M626.36 323.20v4.4M632.27 323.20v4.4M638.19 323.20v4.4M644.10 323.20v4.4M650.01 323.20v4.4M655.93 323.20v4.4M661.84 323.20v4.4M667.75 323.20v4.4M673.66 323.20v4.4M679.58 323.20v4.4M685.49 323.20v4.4M691.40 323.20v4.4M697.32 323.20v4.4M703.23 323.20v4.4M709.14 323.20v4.4M715.06 323.20v4.4M720.97 323.20v4.4M726.88 323.20v4.4M732.79 323.20v4.4M738.71 323.20v4.4M744.62 323.20v4.4M750.53 323.20v4.4M756.45 323.20v4.4M762.36 323.20v4.4M768.27 323.20v4.4M774.19 323.20v4.4M780.10 323.20v4.4M786.01 323.20v4.4M791.92 323.20v4.4M797.84 323.20v4.4M803.75 323.20v4.4M809.66 323.20v4.4M815.58 323.20v4.4M821.49 323.20v4.4M827.40 323.20v4.4M833.32 323.20v4.4M839.23 323.20v4.4M845.14 323.20v4.4M851.05 323.20v4.4M856.97 323.20v4.4M862.88 323.20v4.4M868.79 323.20v4.4M874.71 323.20v4.4M880.62 323.20v4.4M886.53 323.20v4.4M892.45 323.20v4.4M898.36 323.20v4.4M904.27 323.20v4.4M910.18 323.20v4.4M916.10 323.20v4.4M922.01 323.20v4.4M927.92 323.20v4.4" stroke="#111" stroke-width="1.15" fill="none"/>
<text x="504.7" y="239.2" font-size="12.8" fill="#141414" stroke="#141414" stroke-width="0.3" text-anchor="end" textLength="21.2" lengthAdjust="spacingAndGlyphs">100</text>
<text x="503.9" y="282.7" font-size="12.8" fill="#141414" stroke="#141414" stroke-width="0.3" text-anchor="end" textLength="11.2" lengthAdjust="spacingAndGlyphs">%</text>
<text x="504.5" y="329.1" font-size="13.0" fill="#141414" stroke="#141414" stroke-width="0.3" text-anchor="end" textLength="7.0" lengthAdjust="spacingAndGlyphs">0</text>
<text x="930.1" y="329.3" font-size="13.5" fill="#141414" stroke="#141414" stroke-width="0.3" textLength="22.3" lengthAdjust="spacingAndGlyphs">m/z</text>
<path d="M513.96 323.20L514.45 322.30L514.84 321.20h0.70L515.93 322.30L516.42 323.20zM525.29 323.20L525.78 322.30L526.17 321.20h0.70L527.26 322.30L527.76 323.20zM537.89 323.20L538.38 322.07L538.77 320.70h0.70L539.86 322.07L540.35 323.20zM542.17 323.20L542.66 322.30L543.05 321.20h0.70L544.14 322.30L544.63 323.20zM564.33 323.20L564.83 321.40L565.22 319.20h0.70L566.31 321.40L566.80 323.20zM566.85 323.20L567.35 320.05L567.74 316.20h0.70L568.82 320.05L569.32 323.20zM568.36 323.20L568.86 321.85L569.25 320.20h0.70L570.34 321.85L570.83 323.20zM583.98 323.20L584.47 322.07L584.86 320.70h0.70L585.95 322.07L586.45 323.20zM590.78 323.20L591.28 321.40L591.67 319.20h0.70L592.75 321.40L593.25 323.20zM593.05 323.20L593.54 319.60L593.93 315.20h0.70L595.02 319.60L595.51 323.20zM594.56 323.20L595.05 321.85L595.44 320.20h0.70L596.53 321.85L597.03 323.20zM600.86 323.20L601.35 321.40L601.74 319.20h0.70L602.83 321.40L603.32 323.20zM604.13 323.20L604.63 320.50L605.02 317.20h0.70L606.10 320.50L606.60 323.20zM605.90 323.20L606.39 321.40L606.78 319.20h0.70L607.87 321.40L608.36 323.20zM610.43 323.20L610.92 321.85L611.31 320.20h0.70L612.40 321.85L612.89 323.20zM629.32 323.20L629.81 321.85L630.20 320.20h0.70L631.29 321.85L631.79 323.20zM639.40 323.20L639.89 322.07L640.28 320.70h0.70L641.37 322.07L641.86 323.20zM657.53 323.20L658.03 322.30L658.42 321.20h0.70L659.50 322.30L660.00 323.20zM740.77 323.20L741.26 322.30L741.65 321.20h0.70L742.74 322.30L743.23 323.20zM774.77 323.20L775.26 322.07L775.65 320.70h0.70L776.74 322.07L777.23 323.20zM813.77 323.20L814.26 322.07L814.65 320.70h0.70L815.74 322.07L816.23 323.20zM857.87 323.20L858.36 320.95L858.75 318.20h0.70L859.84 320.95L860.33 323.20zM863.66 323.20L864.16 309.49L864.47 277.50L864.94 244.60L865.10 231.80h1.00L866.26 244.60L866.73 277.50L867.04 309.49L867.54 323.20zM865.50 323.20L865.86 317.20L866.09 303.20L866.42 288.80L866.40 283.20h1.00L867.38 288.80L867.71 303.20L867.94 317.20L868.30 323.20zM870.97 323.20L871.46 320.95L871.85 318.20h0.70L872.94 320.95L873.43 323.20zM872.66 323.20L873.14 313.64L873.44 291.35L873.88 268.42L874.00 259.50h1.00L875.12 268.42L875.56 291.35L875.86 313.64L876.34 323.20zM874.36 323.20L874.89 311.95L875.35 298.20h0.70L876.51 311.95L877.04 323.20zM879.04 323.20L879.63 315.10L880.15 305.20h0.70L881.37 315.10L881.96 323.20zM880.88 323.20L881.30 317.53L881.56 304.30L881.95 290.69L882.00 285.40h1.00L883.05 290.69L883.44 304.30L883.70 317.53L884.12 323.20zM882.74 323.20L883.33 314.20L883.85 303.20h0.70L885.07 314.20L885.66 323.20zM887.73 323.20L888.36 314.11L888.95 303.00h0.70L890.24 314.11L890.87 323.20zM890.34 323.20L890.93 315.82L891.45 306.80h0.70L892.67 315.82L893.26 323.20zM892.07 323.20L892.56 320.95L892.95 318.20h0.70L894.04 320.95L894.53 323.20zM896.14 323.20L896.73 317.80L897.25 311.20h0.70L898.47 317.80L899.06 323.20zM898.67 323.20L899.16 320.05L899.55 316.20h0.70L900.64 320.05L901.13 323.20zM905.27 323.20L905.76 321.18L906.15 318.70h0.70L907.24 321.18L907.73 323.20zM914.57 323.20L915.06 322.30L915.45 321.20h0.70L916.54 322.30L917.03 323.20zM510.88 323.20L512.00 322.44L513.12 323.20zM514.14 323.20L514.90 322.12L515.67 323.20zM517.30 323.20L518.28 321.79L519.27 323.20zM520.20 323.20L520.80 322.36L521.40 323.20zM522.26 323.20L522.91 322.01L523.56 323.20zM525.52 323.20L526.29 322.37L527.07 323.20zM526.27 323.20L527.42 321.60L528.57 323.20zM530.42 323.20L531.04 321.98L531.67 323.20zM532.34 323.20L533.03 322.10L533.72 323.20zM536.17 323.20L536.89 322.23L537.60 323.20zM539.04 323.20L540.34 322.48L541.64 323.20zM541.84 323.20L542.70 322.05L543.56 323.20zM544.53 323.20L545.15 322.41L545.78 323.20zM547.57 323.20L548.75 322.37L549.94 323.20zM549.11 323.20L550.38 321.63L551.65 323.20zM552.61 323.20L553.64 321.84L554.68 323.20zM555.87 323.20L556.83 322.48L557.79 323.20zM559.02 323.20L560.31 322.40L561.60 323.20zM563.10 323.20L563.97 322.19L564.85 323.20zM564.98 323.20L566.33 322.21L567.67 323.20zM567.82 323.20L568.49 322.57L569.16 323.20zM570.67 323.20L571.64 321.61L572.61 323.20zM572.96 323.20L574.12 322.05L575.28 323.20zM574.77 323.20L575.78 321.99L576.80 323.20zM577.92 323.20L578.65 322.42L579.38 323.20zM579.84 323.20L580.70 321.67L581.56 323.20zM582.81 323.20L583.49 322.29L584.16 323.20zM583.50 323.20L584.68 321.79L585.87 323.20zM585.70 323.20L586.81 321.92L587.92 323.20zM589.60 323.20L590.50 321.64L591.41 323.20zM593.43 323.20L594.47 321.64L595.51 323.20zM597.24 323.20L598.12 322.11L599.00 323.20zM599.14 323.20L599.86 321.72L600.58 323.20zM599.89 323.20L601.07 321.79L602.25 323.20zM602.88 323.20L603.52 321.76L604.16 323.20zM604.38 323.20L605.29 322.31L606.21 323.20zM605.95 323.20L606.81 322.53L607.66 323.20zM609.34 323.20L610.50 321.62L611.66 323.20zM611.62 323.20L612.94 322.35L614.26 323.20zM614.90 323.20L615.52 321.87L616.14 323.20zM615.96 323.20L617.15 321.76L618.35 323.20zM619.88 323.20L620.80 322.00L621.72 323.20zM622.71 323.20L623.54 321.75L624.37 323.20zM624.97 323.20L626.14 322.32L627.32 323.20zM625.86 323.20L627.18 321.91L628.49 323.20zM627.16 323.20L628.25 322.01L629.33 323.20zM631.01 323.20L631.80 322.02L632.59 323.20zM632.74 323.20L634.02 321.64L635.30 323.20zM634.75 323.20L635.42 322.51L636.09 323.20zM635.79 323.20L636.49 322.15L637.20 323.20zM639.40 323.20L640.10 321.94L640.79 323.20zM641.74 323.20L642.71 322.28L643.68 323.20zM643.63 323.20L644.37 322.43L645.11 323.20zM645.49 323.20L646.50 321.89L647.52 323.20zM646.39 323.20L647.64 321.89L648.90 323.20zM650.36 323.20L650.97 321.81L651.57 323.20zM652.18 323.20L653.36 322.54L654.53 323.20zM654.09 323.20L654.88 321.89L655.67 323.20zM657.34 323.20L657.97 322.29L658.61 323.20zM658.86 323.20L660.14 322.29L661.42 323.20zM661.01 323.20L662.03 322.10L663.04 323.20zM664.82 323.20L665.87 322.50L666.92 323.20zM667.07 323.20L668.39 321.87L669.72 323.20zM669.33 323.20L670.33 321.90L671.32 323.20zM671.80 323.20L673.01 322.54L674.22 323.20zM676.10 323.20L676.94 322.24L677.78 323.20zM680.26 323.20L680.92 322.49L681.57 323.20zM680.97 323.20L682.14 321.79L683.31 323.20zM683.87 323.20L684.48 321.98L685.10 323.20zM686.43 323.20L687.42 322.16L688.40 323.20zM688.81 323.20L689.58 322.20L690.35 323.20zM689.94 323.20L690.73 322.17L691.52 323.20zM692.70 323.20L693.84 321.78L694.99 323.20zM695.32 323.20L696.21 322.36L697.10 323.20zM697.35 323.20L698.67 321.97L699.99 323.20zM698.96 323.20L699.93 322.12L700.90 323.20z" fill="#0a0a0a"/>
<text x="483.0" y="207.8" font-size="13.5" fill="#141414" stroke="#141414" stroke-width="0.3" textLength="182.3" lengthAdjust="spacingAndGlyphs" xml:space="preserve">all-L-isoAsp  + 20S, 10-20 sec</text>
<path d="M29.80 388.2V480.5" stroke="#222" stroke-width="1.1" fill="none"/>
<path d="M29.80 480.50h-1.4M29.80 471.27h-1.4M29.80 462.04h-1.4M29.80 452.81h-1.4M29.80 443.58h-1.4M29.80 434.35h-2.2M29.80 425.12h-1.4M29.80 415.89h-1.4M29.80 406.66h-1.4M29.80 397.43h-1.4M29.80 388.20h-3.2" stroke="#222" stroke-width="0.9" fill="none"/>
<path d="M29.30 480.50H449.62" stroke="#0a0a0a" stroke-width="1.7" fill="none"/>
<path d="M29.80 480.50v4.4M35.71 480.50v4.4M41.63 480.50v4.4M47.54 480.50v4.4M53.45 480.50v4.4M59.37 480.50v4.4M65.28 480.50v4.4M71.19 480.50v4.4M77.10 480.50v4.4M83.02 480.50v4.4M88.93 480.50v4.4M94.84 480.50v4.4M100.76 480.50v4.4M106.67 480.50v4.4M112.58 480.50v4.4M118.50 480.50v4.4M124.41 480.50v4.4M130.32 480.50v4.4M136.23 480.50v4.4M142.15 480.50v4.4M148.06 480.50v4.4M153.97 480.50v4.4M159.89 480.50v4.4M165.80 480.50v4.4M171.71 480.50v4.4M177.63 480.50v4.4M183.54 480.50v4.4M189.45 480.50v4.4M195.36 480.50v4.4M201.28 480.50v4.4M207.19 480.50v4.4M213.10 480.50v4.4M219.02 480.50v4.4M224.93 480.50v4.4M230.84 480.50v4.4M236.76 480.50v4.4M242.67 480.50v4.4M248.58 480.50v4.4M254.49 480.50v4.4M260.41 480.50v4.4M266.32 480.50v4.4M272.23 480.50v4.4M278.15 480.50v4.4M284.06 480.50v4.4M289.97 480.50v4.4M295.89 480.50v4.4M301.80 480.50v4.4M307.71 480.50v4.4M313.62 480.50v4.4M319.54 480.50v4.4M325.45 480.50v4.4M331.36 480.50v4.4M337.28 480.50v4.4M343.19 480.50v4.4M349.10 480.50v4.4M355.02 480.50v4.4M360.93 480.50v4.4M366.84 480.50v4.4M372.75 480.50v4.4M378.67 480.50v4.4M384.58 480.50v4.4M390.49 480.50v4.4M396.41 480.50v4.4M402.32 480.50v4.4M408.23 480.50v4.4M414.15 480.50v4.4M420.06 480.50v4.4M425.97 480.50v4.4M431.88 480.50v4.4M437.80 480.50v4.4M443.71 480.50v4.4M449.62 480.50v4.4" stroke="#111" stroke-width="1.15" fill="none"/>
<text x="26.4" y="396.4" font-size="12.8" fill="#141414" stroke="#141414" stroke-width="0.3" text-anchor="end" textLength="21.2" lengthAdjust="spacingAndGlyphs">100</text>
<text x="25.6" y="440.0" font-size="12.8" fill="#141414" stroke="#141414" stroke-width="0.3" text-anchor="end" textLength="11.2" lengthAdjust="spacingAndGlyphs">%</text>
<text x="26.2" y="486.4" font-size="13.0" fill="#141414" stroke="#141414" stroke-width="0.3" text-anchor="end" textLength="7.0" lengthAdjust="spacingAndGlyphs">0</text>
<text x="451.8" y="486.6" font-size="13.5" fill="#141414" stroke="#141414" stroke-width="0.3" textLength="22.3" lengthAdjust="spacingAndGlyphs">m/z</text>
<path d="M61.07 480.50L61.56 477.89L61.95 474.70h0.70L63.04 477.89L63.53 480.50zM62.77 480.50L63.26 479.38L63.65 478.00h0.70L64.74 479.38L65.23 480.50zM75.74 480.50L76.33 472.22L76.85 462.10h0.70L78.07 472.22L78.66 480.50zM77.07 480.50L77.56 478.25L77.95 475.50h0.70L79.04 478.25L79.53 480.50zM111.24 480.50L111.83 470.29L112.35 457.80h0.70L113.57 470.29L114.16 480.50zM113.27 480.50L113.76 476.45L114.15 471.50h0.70L115.24 476.45L115.73 480.50zM114.57 480.50L115.06 478.25L115.45 475.50h0.70L116.54 478.25L117.03 480.50zM120.57 480.50L121.06 478.02L121.45 475.00h0.70L122.54 478.02L123.03 480.50zM122.07 480.50L122.56 479.15L122.95 477.50h0.70L124.04 479.15L124.53 480.50zM127.37 480.50L127.86 476.90L128.25 472.50h0.70L129.34 476.90L129.83 480.50zM129.17 480.50L129.66 478.70L130.05 476.50h0.70L131.14 478.70L131.63 480.50zM137.17 480.50L137.66 479.60L138.05 478.50h0.70L139.14 479.60L139.63 480.50zM142.77 480.50L143.26 479.60L143.65 478.50h0.70L144.74 479.60L145.23 480.50zM149.77 480.50L150.26 479.60L150.65 478.50h0.70L151.74 479.60L152.23 480.50zM156.57 480.50L157.06 477.80L157.45 474.50h0.70L158.54 477.80L159.03 480.50zM166.17 480.50L166.66 477.12L167.05 473.00h0.70L168.14 477.12L168.63 480.50zM171.14 480.50L171.73 474.38L172.25 466.90h0.70L173.47 474.38L174.06 480.50zM176.97 480.50L177.46 479.38L177.85 478.00h0.70L178.94 479.38L179.43 480.50zM183.27 480.50L183.76 476.54L184.15 471.70h0.70L185.24 476.54L185.73 480.50zM184.97 480.50L185.46 478.70L185.85 476.50h0.70L186.94 478.70L187.43 480.50zM191.57 480.50L192.06 478.93L192.45 477.00h0.70L193.54 478.93L194.03 480.50zM199.44 480.50L200.03 468.26L200.55 453.30h0.70L201.77 468.26L202.36 480.50zM200.97 480.50L201.46 476.00L201.85 470.50h0.70L202.94 476.00L203.43 480.50zM206.17 480.50L206.62 467.75L206.90 438.00L207.31 407.40L207.40 395.50h1.00L208.49 407.40L208.90 438.00L209.18 467.75L209.63 480.50zM208.00 480.50L208.36 471.50L208.59 450.50L208.92 428.90L208.90 420.50h1.00L209.88 428.90L210.21 450.50L210.44 471.50L210.80 480.50zM209.67 480.50L210.16 467.00L210.55 450.50h0.70L211.64 467.00L212.13 480.50zM211.27 480.50L211.76 476.00L212.15 470.50h0.70L213.24 476.00L213.73 480.50zM214.88 480.50L215.30 473.90L215.56 458.50L215.95 442.66L216.00 436.50h1.00L217.05 442.66L217.44 458.50L217.70 473.90L218.12 480.50zM217.04 480.50L217.63 467.90L218.15 452.50h0.70L219.37 467.90L219.96 480.50zM218.34 480.50L218.93 473.75L219.45 465.50h0.70L220.67 473.75L221.26 480.50zM220.27 480.50L220.76 476.90L221.15 472.50h0.70L222.24 476.90L222.73 480.50zM223.18 480.50L223.60 474.08L223.86 459.10L224.25 443.69L224.30 437.70h1.00L225.35 443.69L225.74 459.10L226.00 474.08L226.42 480.50zM225.04 480.50L225.63 473.75L226.15 465.50h0.70L227.37 473.75L227.96 480.50zM227.27 480.50L227.76 477.80L228.15 474.50h0.70L229.24 477.80L229.73 480.50zM229.54 480.50L230.13 473.75L230.65 465.50h0.70L231.87 473.75L232.46 480.50zM232.14 480.50L232.73 469.07L233.25 455.10h0.70L234.47 469.07L235.06 480.50zM233.44 480.50L234.03 475.10L234.55 468.50h0.70L235.77 475.10L236.36 480.50zM235.27 480.50L235.76 478.25L236.15 475.50h0.70L237.24 478.25L237.73 480.50zM238.14 480.50L238.73 472.13L239.25 461.90h0.70L240.47 472.13L241.06 480.50zM240.47 480.50L240.96 475.55L241.35 469.50h0.70L242.44 475.55L242.93 480.50zM241.77 480.50L242.26 477.80L242.65 474.50h0.70L243.74 477.80L244.23 480.50zM247.27 480.50L247.76 477.35L248.15 473.50h0.70L249.24 477.35L249.73 480.50zM249.27 480.50L249.76 478.70L250.15 476.50h0.70L251.24 478.70L251.73 480.50zM252.57 480.50L253.06 479.15L253.45 477.50h0.70L254.54 479.15L255.03 480.50zM256.77 480.50L257.26 479.15L257.65 477.50h0.70L258.74 479.15L259.23 480.50zM255.77 480.50L256.26 479.15L256.65 477.50h0.70L257.74 479.15L258.23 480.50zM266.24 480.50L266.83 471.68L267.35 460.90h0.70L268.57 471.68L269.16 480.50zM267.54 480.50L268.13 471.05L268.65 459.50h0.70L269.87 471.05L270.46 480.50zM269.07 480.50L269.56 477.80L269.95 474.50h0.70L271.04 477.80L271.53 480.50zM284.07 480.50L284.56 478.48L284.95 476.00h0.70L286.04 478.48L286.53 480.50zM295.97 480.50L296.46 477.12L296.85 473.00h0.70L297.94 477.12L298.43 480.50zM334.47 480.50L334.96 479.38L335.35 478.00h0.70L336.44 479.38L336.93 480.50zM378.57 480.50L379.06 477.35L379.45 473.50h0.70L380.54 477.35L381.03 480.50zM384.87 480.50L385.32 466.79L385.60 434.80L386.01 401.90L386.10 389.10h1.00L387.19 401.90L387.60 434.80L387.88 466.79L388.33 480.50zM386.50 480.50L386.84 473.30L387.05 456.50L387.36 439.22L387.30 432.50h1.00L388.24 439.22L388.55 456.50L388.76 473.30L389.10 480.50zM391.17 480.50L391.66 478.70L392.05 476.50h0.70L393.14 478.70L393.63 480.50zM393.80 480.50L394.16 475.10L394.39 462.50L394.72 449.54L394.70 444.50h1.00L395.68 449.54L396.01 462.50L396.24 475.10L396.60 480.50zM395.04 480.50L395.63 475.10L396.15 468.50h0.70L397.37 475.10L397.96 480.50zM400.04 480.50L400.63 470.29L401.15 457.80h0.70L402.37 470.29L402.96 480.50zM402.24 480.50L402.83 473.75L403.35 465.50h0.70L404.57 473.75L405.16 480.50zM404.07 480.50L404.56 478.25L404.95 475.50h0.70L406.04 478.25L406.53 480.50zM408.84 480.50L409.43 469.97L409.95 457.10h0.70L411.17 469.97L411.76 480.50zM410.37 480.50L410.86 476.90L411.25 472.50h0.70L412.34 476.90L412.83 480.50zM415.07 480.50L415.56 478.70L415.95 476.50h0.70L417.04 478.70L417.53 480.50zM417.57 480.50L418.06 477.57L418.45 474.00h0.70L419.54 477.57L420.03 480.50zM423.77 480.50L424.26 478.70L424.65 476.50h0.70L425.74 478.70L426.23 480.50zM426.37 480.50L426.86 479.38L427.25 478.00h0.70L428.34 479.38L428.83 480.50zM431.47 480.50L431.96 479.60L432.35 478.50h0.70L433.44 479.60L433.93 480.50zM437.77 480.50L438.26 479.60L438.65 478.50h0.70L439.74 479.60L440.23 480.50zM442.77 480.50L443.26 479.60L443.65 478.50h0.70L444.74 479.60L445.23 480.50zM30.71 480.50L31.80 479.33L32.89 480.50zM34.19 480.50L34.80 479.73L35.41 480.50zM35.72 480.50L36.92 479.57L38.13 480.50zM38.98 480.50L40.00 479.18L41.01 480.50zM42.05 480.50L42.98 479.73L43.91 480.50zM43.82 480.50L44.47 478.81L45.11 480.50zM46.81 480.50L47.92 479.81L49.04 480.50zM48.70 480.50L49.93 479.41L51.17 480.50zM49.70 480.50L50.99 479.83L52.28 480.50zM52.18 480.50L53.52 479.79L54.86 480.50zM56.44 480.50L57.36 479.76L58.27 480.50zM57.70 480.50L58.76 479.52L59.83 480.50zM59.61 480.50L60.25 479.06L60.89 480.50zM60.87 480.50L61.77 478.92L62.67 480.50zM63.06 480.50L64.02 479.18L64.98 480.50zM65.03 480.50L66.18 479.86L67.32 480.50zM68.98 480.50L70.08 478.73L71.18 480.50zM71.03 480.50L72.15 479.46L73.26 480.50zM74.39 480.50L75.17 479.76L75.94 480.50zM76.05 480.50L77.26 479.29L78.47 480.50zM78.54 480.50L79.76 479.87L80.98 480.50zM81.28 480.50L82.05 479.28L82.82 480.50zM83.15 480.50L84.33 479.43L85.51 480.50zM84.91 480.50L85.64 479.24L86.37 480.50zM87.92 480.50L88.73 479.86L89.53 480.50zM90.12 480.50L90.76 479.14L91.40 480.50zM92.33 480.50L93.14 479.65L93.95 480.50zM94.60 480.50L95.57 478.75L96.53 480.50zM98.14 480.50L99.43 479.70L100.73 480.50zM100.36 480.50L101.53 479.67L102.69 480.50zM104.46 480.50L105.26 479.89L106.06 480.50zM107.79 480.50L108.57 479.49L109.36 480.50zM108.54 480.50L109.60 479.85L110.66 480.50zM112.57 480.50L113.55 478.70L114.53 480.50zM113.43 480.50L114.62 479.51L115.81 480.50zM117.35 480.50L118.12 479.13L118.89 480.50zM119.63 480.50L120.70 479.33L121.77 480.50zM121.22 480.50L122.49 478.76L123.76 480.50zM122.72 480.50L123.97 479.55L125.23 480.50zM124.82 480.50L125.81 478.77L126.80 480.50zM128.14 480.50L128.90 479.05L129.66 480.50zM129.64 480.50L130.75 479.59L131.87 480.50zM132.57 480.50L133.84 479.74L135.10 480.50zM135.17 480.50L136.10 479.61L137.02 480.50zM138.97 480.50L140.03 479.23L141.10 480.50zM142.62 480.50L143.79 478.75L144.96 480.50zM144.77 480.50L146.05 479.19L147.32 480.50zM148.55 480.50L149.42 479.20L150.28 480.50zM150.50 480.50L151.52 479.02L152.54 480.50zM151.29 480.50L152.57 479.05L153.85 480.50zM154.68 480.50L155.97 478.82L157.25 480.50zM157.69 480.50L158.57 478.95L159.45 480.50zM159.03 480.50L159.86 479.48L160.70 480.50zM162.66 480.50L163.67 479.07L164.67 480.50zM165.53 480.50L166.53 479.75L167.53 480.50zM168.85 480.50L169.63 479.43L170.42 480.50zM170.74 480.50L171.86 479.51L172.97 480.50zM172.45 480.50L173.28 479.79L174.12 480.50zM175.27 480.50L176.37 478.99L177.46 480.50zM179.55 480.50L180.17 479.46L180.79 480.50zM181.90 480.50L182.64 479.37L183.37 480.50zM184.86 480.50L185.64 479.49L186.42 480.50zM187.01 480.50L187.62 478.77L188.23 480.50zM188.95 480.50L189.70 479.56L190.45 480.50zM190.71 480.50L192.00 479.64L193.29 480.50zM193.78 480.50L194.50 479.06L195.22 480.50zM195.66 480.50L196.90 479.17L198.13 480.50zM197.40 480.50L198.65 479.35L199.89 480.50zM201.14 480.50L202.14 479.63L203.14 480.50zM204.32 480.50L205.42 479.43L206.53 480.50zM207.40 480.50L208.41 478.73L209.43 480.50zM210.31 480.50L211.46 479.48L212.61 480.50zM212.55 480.50L213.42 479.30L214.29 480.50zM214.58 480.50L215.34 479.74L216.11 480.50zM217.34 480.50L217.98 479.60L218.61 480.50zM220.09 480.50L221.39 479.56L222.69 480.50zM222.93 480.50L224.18 479.43L225.44 480.50zM227.18 480.50L227.88 479.51L228.57 480.50zM229.74 480.50L230.80 478.89L231.86 480.50zM233.09 480.50L234.15 479.41L235.22 480.50zM235.06 480.50L235.94 479.41L236.83 480.50zM236.89 480.50L238.10 479.42L239.30 480.50zM238.81 480.50L239.61 479.65L240.40 480.50zM242.88 480.50L243.52 479.27L244.16 480.50zM245.81 480.50L247.02 478.85L248.24 480.50zM248.27 480.50L249.10 479.02L249.93 480.50zM249.29 480.50L250.51 478.86L251.74 480.50zM251.53 480.50L252.15 478.84L252.77 480.50zM253.34 480.50L254.07 479.88L254.80 480.50zM254.74 480.50L255.56 479.04L256.38 480.50zM256.30 480.50L257.13 479.68L257.97 480.50zM260.04 480.50L260.72 479.17L261.40 480.50zM262.84 480.50L263.77 479.26L264.71 480.50zM265.16 480.50L266.36 479.12L267.56 480.50zM267.92 480.50L268.87 479.14L269.82 480.50zM270.86 480.50L271.77 479.43L272.69 480.50zM273.52 480.50L274.32 479.04L275.13 480.50zM276.86 480.50L278.10 479.31L279.34 480.50zM280.06 480.50L281.17 478.75L282.28 480.50zM282.39 480.50L283.45 479.41L284.51 480.50zM286.01 480.50L286.71 478.89L287.41 480.50zM287.24 480.50L287.90 479.77L288.56 480.50zM288.28 480.50L289.07 479.89L289.86 480.50zM289.35 480.50L290.41 479.08L291.47 480.50zM293.14 480.50L294.30 478.75L295.46 480.50zM297.38 480.50L298.15 479.87L298.92 480.50zM301.18 480.50L301.93 479.33L302.69 480.50zM304.20 480.50L305.20 479.39L306.21 480.50zM306.48 480.50L307.15 479.61L307.82 480.50zM308.63 480.50L309.97 478.76L311.31 480.50zM312.39 480.50L313.27 478.78L314.14 480.50zM314.11 480.50L315.16 478.79L316.21 480.50zM317.40 480.50L318.17 479.88L318.94 480.50zM319.40 480.50L320.62 479.02L321.84 480.50zM323.00 480.50L323.89 479.49L324.77 480.50zM326.51 480.50L327.47 478.71L328.44 480.50zM328.06 480.50L329.06 479.15L330.06 480.50zM330.25 480.50L331.14 479.62L332.03 480.50zM332.98 480.50L333.98 479.75L334.99 480.50zM337.05 480.50L337.84 479.01L338.63 480.50zM338.94 480.50L340.09 479.78L341.25 480.50zM341.98 480.50L342.99 479.69L344.00 480.50zM344.89 480.50L345.78 479.21L346.66 480.50zM346.36 480.50L347.71 479.47L349.05 480.50zM348.75 480.50L349.70 479.30L350.64 480.50zM350.46 480.50L351.22 479.42L351.97 480.50zM352.32 480.50L353.18 479.46L354.05 480.50zM356.15 480.50L357.00 479.54L357.85 480.50zM358.98 480.50L359.97 479.42L360.96 480.50zM361.81 480.50L362.91 479.81L364.02 480.50zM363.01 480.50L364.22 479.60L365.42 480.50zM367.46 480.50L368.18 479.09L368.91 480.50zM369.27 480.50L370.50 479.56L371.73 480.50zM371.12 480.50L372.20 479.66L373.28 480.50zM374.15 480.50L375.11 479.19L376.07 480.50zM377.68 480.50L378.99 479.35L380.29 480.50zM380.29 480.50L381.16 479.34L382.03 480.50zM383.53 480.50L384.31 479.00L385.09 480.50zM385.91 480.50L386.89 479.03L387.86 480.50zM388.74 480.50L389.87 479.16L391.01 480.50zM391.32 480.50L391.94 479.53L392.56 480.50zM394.72 480.50L395.61 478.95L396.50 480.50zM398.80 480.50L399.51 478.82L400.23 480.50zM402.19 480.50L403.02 479.39L403.86 480.50zM404.16 480.50L404.80 479.40L405.44 480.50zM405.12 480.50L405.95 479.76L406.78 480.50zM406.20 480.50L407.43 479.75L408.65 480.50zM408.51 480.50L409.57 479.31L410.62 480.50zM412.59 480.50L413.36 479.72L414.14 480.50zM415.65 480.50L416.95 478.81L418.24 480.50zM418.79 480.50L419.53 479.46L420.27 480.50zM422.25 480.50L423.26 478.98L424.28 480.50zM425.64 480.50L426.64 479.59L427.64 480.50zM429.29 480.50L430.36 479.77L431.42 480.50zM430.68 480.50L431.91 478.89L433.14 480.50zM434.23 480.50L434.84 479.38L435.46 480.50zM436.43 480.50L437.33 479.47L438.23 480.50zM437.57 480.50L438.56 478.80L439.55 480.50zM439.97 480.50L441.24 478.89L442.52 480.50zM442.66 480.50L443.89 479.25L445.13 480.50zM445.39 480.50L446.01 478.82L446.63 480.50z" fill="#0a0a0a"/>
<text x="4.0" y="364.8" font-size="13.5" fill="#141414" stroke="#141414" stroke-width="0.3" textLength="151.2" lengthAdjust="spacingAndGlyphs" xml:space="preserve">all-L-Asp  + 20S, 1-2 min</text>
<path d="M508.10 388.2V480.5" stroke="#222" stroke-width="1.1" fill="none"/>
<path d="M508.10 480.50h-1.4M508.10 471.27h-1.4M508.10 462.04h-1.4M508.10 452.81h-1.4M508.10 443.58h-1.4M508.10 434.35h-2.2M508.10 425.12h-1.4M508.10 415.89h-1.4M508.10 406.66h-1.4M508.10 397.43h-1.4M508.10 388.20h-3.2" stroke="#222" stroke-width="0.9" fill="none"/>
<path d="M507.60 480.50H927.92" stroke="#0a0a0a" stroke-width="1.7" fill="none"/>
<path d="M508.10 480.50v4.4M514.01 480.50v4.4M519.93 480.50v4.4M525.84 480.50v4.4M531.75 480.50v4.4M537.67 480.50v4.4M543.58 480.50v4.4M549.49 480.50v4.4M555.40 480.50v4.4M561.32 480.50v4.4M567.23 480.50v4.4M573.14 480.50v4.4M579.06 480.50v4.4M584.97 480.50v4.4M590.88 480.50v4.4M596.80 480.50v4.4M602.71 480.50v4.4M608.62 480.50v4.4M614.53 480.50v4.4M620.45 480.50v4.4M626.36 480.50v4.4M632.27 480.50v4.4M638.19 480.50v4.4M644.10 480.50v4.4M650.01 480.50v4.4M655.93 480.50v4.4M661.84 480.50v4.4M667.75 480.50v4.4M673.66 480.50v4.4M679.58 480.50v4.4M685.49 480.50v4.4M691.40 480.50v4.4M697.32 480.50v4.4M703.23 480.50v4.4M709.14 480.50v4.4M715.06 480.50v4.4M720.97 480.50v4.4M726.88 480.50v4.4M732.79 480.50v4.4M738.71 480.50v4.4M744.62 480.50v4.4M750.53 480.50v4.4M756.45 480.50v4.4M762.36 480.50v4.4M768.27 480.50v4.4M774.19 480.50v4.4M780.10 480.50v4.4M786.01 480.50v4.4M791.92 480.50v4.4M797.84 480.50v4.4M803.75 480.50v4.4M809.66 480.50v4.4M815.58 480.50v4.4M821.49 480.50v4.4M827.40 480.50v4.4M833.32 480.50v4.4M839.23 480.50v4.4M845.14 480.50v4.4M851.05 480.50v4.4M856.97 480.50v4.4M862.88 480.50v4.4M868.79 480.50v4.4M874.71 480.50v4.4M880.62 480.50v4.4M886.53 480.50v4.4M892.45 480.50v4.4M898.36 480.50v4.4M904.27 480.50v4.4M910.18 480.50v4.4M916.10 480.50v4.4M922.01 480.50v4.4M927.92 480.50v4.4" stroke="#111" stroke-width="1.15" fill="none"/>
<text x="504.7" y="396.4" font-size="12.8" fill="#141414" stroke="#141414" stroke-width="0.3" text-anchor="end" textLength="21.2" lengthAdjust="spacingAndGlyphs">100</text>
<text x="503.9" y="440.0" font-size="12.8" fill="#141414" stroke="#141414" stroke-width="0.3" text-anchor="end" textLength="11.2" lengthAdjust="spacingAndGlyphs">%</text>
<text x="504.5" y="486.4" font-size="13.0" fill="#141414" stroke="#141414" stroke-width="0.3" text-anchor="end" textLength="7.0" lengthAdjust="spacingAndGlyphs">0</text>
<text x="930.1" y="486.6" font-size="13.5" fill="#141414" stroke="#141414" stroke-width="0.3" textLength="22.3" lengthAdjust="spacingAndGlyphs">m/z</text>
<path d="M539.90 480.50L540.39 479.38L540.78 478.00h0.70L541.87 479.38L542.37 480.50zM551.74 480.50L552.23 479.60L552.62 478.50h0.70L553.71 479.60L554.20 480.50zM563.83 480.50L564.32 478.25L564.71 475.50h0.70L565.80 478.25L566.29 480.50zM565.59 480.50L566.09 479.15L566.48 477.50h0.70L567.57 479.15L568.06 480.50zM584.49 480.50L584.98 479.15L585.37 477.50h0.70L586.46 479.15L586.95 480.50zM590.78 480.50L591.28 477.80L591.67 474.50h0.70L592.75 477.80L593.25 480.50zM592.55 480.50L593.04 479.15L593.43 477.50h0.70L594.52 479.15L595.01 480.50zM598.09 480.50L598.58 478.25L598.97 475.50h0.70L600.06 478.25L600.55 480.50zM606.15 480.50L606.64 478.70L607.03 476.50h0.70L608.12 478.70L608.61 480.50zM614.71 480.50L615.21 479.38L615.59 478.00h0.70L616.68 479.38L617.18 480.50zM619.75 480.50L620.24 479.38L620.63 478.00h0.70L621.72 479.38L622.21 480.50zM629.32 480.50L629.81 479.38L630.20 478.00h0.70L631.29 479.38L631.79 480.50zM635.62 480.50L636.11 479.15L636.50 477.50h0.70L637.59 479.15L638.08 480.50zM649.98 480.50L650.47 479.38L650.86 478.00h0.70L651.95 479.38L652.44 480.50zM653.76 480.50L654.25 479.15L654.64 477.50h0.70L655.73 479.15L656.22 480.50zM662.57 480.50L663.06 479.60L663.45 478.50h0.70L664.54 479.60L665.04 480.50zM731.37 480.50L731.86 479.15L732.25 477.50h0.70L733.34 479.15L733.83 480.50zM747.07 480.50L747.56 478.93L747.95 477.00h0.70L749.04 478.93L749.53 480.50zM774.77 480.50L775.26 478.70L775.65 476.50h0.70L776.74 478.70L777.23 480.50zM813.77 480.50L814.26 478.25L814.65 475.50h0.70L815.74 478.25L816.23 480.50zM818.77 480.50L819.26 479.60L819.65 478.50h0.70L820.74 479.60L821.23 480.50zM836.47 480.50L836.96 479.38L837.35 478.00h0.70L838.44 479.38L838.93 480.50zM842.77 480.50L843.26 479.60L843.65 478.50h0.70L844.74 479.60L845.23 480.50zM857.87 480.50L858.36 478.48L858.75 476.00h0.70L859.84 478.48L860.33 480.50zM863.87 480.50L864.32 466.79L864.60 434.80L865.01 401.90L865.10 389.10h1.00L866.19 401.90L866.60 434.80L866.88 466.79L867.33 480.50zM865.61 480.50L865.92 474.50L866.11 460.50L866.40 446.10L866.30 440.50h1.00L867.20 446.10L867.49 460.50L867.68 474.50L867.99 480.50zM870.47 480.50L870.96 476.00L871.35 470.50h0.70L872.44 476.00L872.93 480.50zM872.74 480.50L873.33 469.97L873.85 457.10h0.70L875.07 469.97L875.66 480.50zM874.97 480.50L875.46 476.00L875.85 470.50h0.70L876.94 476.00L877.43 480.50zM879.27 480.50L879.76 475.32L880.15 469.00h0.70L881.24 475.32L881.73 480.50zM881.77 480.50L882.26 478.70L882.65 476.50h0.70L883.74 478.70L884.23 480.50zM887.57 480.50L888.06 479.15L888.45 477.50h0.70L889.54 479.15L890.03 480.50zM903.17 480.50L903.66 479.60L904.05 478.50h0.70L905.14 479.60L905.63 480.50zM511.29 480.50L512.00 478.94L512.71 480.50zM512.33 480.50L513.07 478.90L513.81 480.50zM513.57 480.50L514.43 479.25L515.29 480.50zM516.78 480.50L518.10 479.67L519.42 480.50zM518.76 480.50L520.06 479.30L521.36 480.50zM521.98 480.50L523.12 478.98L524.25 480.50zM523.22 480.50L524.26 479.02L525.30 480.50zM524.96 480.50L526.19 479.71L527.43 480.50zM527.76 480.50L528.94 478.96L530.12 480.50zM531.70 480.50L532.82 479.33L533.95 480.50zM534.34 480.50L535.66 479.64L536.98 480.50zM536.28 480.50L537.60 479.12L538.92 480.50zM539.33 480.50L540.55 479.76L541.77 480.50zM542.92 480.50L543.55 479.71L544.19 480.50zM544.86 480.50L546.15 479.87L547.44 480.50zM547.76 480.50L548.67 479.38L549.58 480.50zM550.82 480.50L551.65 478.98L552.48 480.50zM552.95 480.50L553.77 479.32L554.60 480.50zM555.63 480.50L556.56 479.36L557.48 480.50zM558.91 480.50L559.58 479.37L560.25 480.50zM562.65 480.50L563.57 479.54L564.49 480.50zM564.46 480.50L565.78 478.97L567.09 480.50zM567.64 480.50L568.31 479.50L568.99 480.50zM570.99 480.50L572.00 479.73L573.01 480.50zM573.18 480.50L574.05 479.57L574.92 480.50zM574.62 480.50L575.62 479.86L576.62 480.50zM578.26 480.50L579.01 479.25L579.76 480.50zM581.18 480.50L582.09 479.85L583.00 480.50zM584.63 480.50L585.57 478.98L586.52 480.50zM588.12 480.50L589.11 479.40L590.11 480.50zM590.71 480.50L591.87 478.91L593.03 480.50zM593.20 480.50L594.29 479.17L595.37 480.50zM595.13 480.50L596.35 479.12L597.56 480.50zM598.56 480.50L599.17 478.96L599.79 480.50zM600.82 480.50L601.67 479.27L602.53 480.50zM602.26 480.50L603.19 479.21L604.11 480.50zM603.67 480.50L604.99 479.86L606.32 480.50zM606.29 480.50L607.05 479.78L607.81 480.50zM608.08 480.50L608.82 479.03L609.55 480.50zM609.69 480.50L610.64 479.80L611.60 480.50zM611.12 480.50L612.27 479.56L613.42 480.50zM615.41 480.50L616.04 479.07L616.67 480.50zM617.55 480.50L618.18 479.05L618.80 480.50zM618.90 480.50L619.79 479.41L620.67 480.50zM622.09 480.50L623.04 479.18L623.99 480.50zM623.98 480.50L624.78 479.67L625.58 480.50zM625.26 480.50L625.98 479.23L626.70 480.50zM629.01 480.50L629.65 479.25L630.29 480.50zM631.51 480.50L632.14 479.30L632.78 480.50zM633.43 480.50L634.60 479.87L635.78 480.50zM634.28 480.50L635.62 479.27L636.96 480.50zM638.15 480.50L639.16 479.67L640.16 480.50zM639.33 480.50L640.58 479.56L641.82 480.50zM643.14 480.50L644.03 479.89L644.91 480.50zM645.75 480.50L646.95 479.72L648.15 480.50zM649.76 480.50L650.63 479.35L651.50 480.50zM653.43 480.50L654.17 479.39L654.92 480.50zM654.78 480.50L656.01 479.74L657.24 480.50zM657.32 480.50L658.54 479.20L659.75 480.50zM661.55 480.50L662.46 479.71L663.36 480.50zM665.19 480.50L666.08 479.14L666.97 480.50zM668.33 480.50L669.05 479.71L669.77 480.50zM669.42 480.50L670.20 479.52L670.98 480.50zM672.04 480.50L672.75 478.93L673.47 480.50zM674.38 480.50L675.43 479.04L676.47 480.50zM677.39 480.50L678.01 479.13L678.62 480.50zM680.65 480.50L681.85 479.21L683.06 480.50zM684.68 480.50L685.33 479.80L685.98 480.50zM685.56 480.50L686.86 479.40L688.17 480.50zM689.53 480.50L690.59 479.49L691.66 480.50zM692.48 480.50L693.81 479.57L695.14 480.50zM696.36 480.50L697.64 479.17L698.91 480.50z" fill="#0a0a0a"/>
<text x="483.0" y="364.8" font-size="13.5" fill="#141414" stroke="#141414" stroke-width="0.3" textLength="168.0" lengthAdjust="spacingAndGlyphs" xml:space="preserve">all-L-isoAsp  + 20S, 1-2 min</text>
<path d="M29.80 546.0V637.8" stroke="#222" stroke-width="1.1" fill="none"/>
<path d="M29.80 637.80h-1.4M29.80 628.62h-1.4M29.80 619.44h-1.4M29.80 610.26h-1.4M29.80 601.08h-1.4M29.80 591.90h-2.2M29.80 582.72h-1.4M29.80 573.54h-1.4M29.80 564.36h-1.4M29.80 555.18h-1.4M29.80 546.00h-3.2" stroke="#222" stroke-width="0.9" fill="none"/>
<path d="M29.30 637.80H449.62" stroke="#0a0a0a" stroke-width="1.7" fill="none"/>
<path d="M29.80 637.80v4.4M35.71 637.80v4.4M41.63 637.80v4.4M47.54 637.80v4.4M53.45 637.80v4.4M59.37 637.80v4.4M65.28 637.80v4.4M71.19 637.80v4.4M77.10 637.80v4.4M83.02 637.80v4.4M88.93 637.80v4.4M94.84 637.80v4.4M100.76 637.80v4.4M106.67 637.80v4.4M112.58 637.80v4.4M118.50 637.80v4.4M124.41 637.80v4.4M130.32 637.80v4.4M136.23 637.80v4.4M142.15 637.80v4.4M148.06 637.80v4.4M153.97 637.80v4.4M159.89 637.80v4.4M165.80 637.80v4.4M171.71 637.80v4.4M177.63 637.80v4.4M183.54 637.80v4.4M189.45 637.80v4.4M195.36 637.80v4.4M201.28 637.80v4.4M207.19 637.80v4.4M213.10 637.80v4.4M219.02 637.80v4.4M224.93 637.80v4.4M230.84 637.80v4.4M236.76 637.80v4.4M242.67 637.80v4.4M248.58 637.80v4.4M254.49 637.80v4.4M260.41 637.80v4.4M266.32 637.80v4.4M272.23 637.80v4.4M278.15 637.80v4.4M284.06 637.80v4.4M289.97 637.80v4.4M295.89 637.80v4.4M301.80 637.80v4.4M307.71 637.80v4.4M313.62 637.80v4.4M319.54 637.80v4.4M325.45 637.80v4.4M331.36 637.80v4.4M337.28 637.80v4.4M343.19 637.80v4.4M349.10 637.80v4.4M355.02 637.80v4.4M360.93 637.80v4.4M366.84 637.80v4.4M372.75 637.80v4.4M378.67 637.80v4.4M384.58 637.80v4.4M390.49 637.80v4.4M396.41 637.80v4.4M402.32 637.80v4.4M408.23 637.80v4.4M414.15 637.80v4.4M420.06 637.80v4.4M425.97 637.80v4.4M431.88 637.80v4.4M437.80 637.80v4.4M443.71 637.80v4.4M449.62 637.80v4.4" stroke="#111" stroke-width="1.15" fill="none"/>
<text x="26.4" y="554.2" font-size="12.8" fill="#141414" stroke="#141414" stroke-width="0.3" text-anchor="end" textLength="21.2" lengthAdjust="spacingAndGlyphs">100</text>
<text x="25.6" y="597.5" font-size="12.8" fill="#141414" stroke="#141414" stroke-width="0.3" text-anchor="end" textLength="11.2" lengthAdjust="spacingAndGlyphs">%</text>
<text x="26.2" y="643.7" font-size="13.0" fill="#141414" stroke="#141414" stroke-width="0.3" text-anchor="end" textLength="7.0" lengthAdjust="spacingAndGlyphs">0</text>
<text x="451.8" y="643.9" font-size="13.5" fill="#141414" stroke="#141414" stroke-width="0.3" textLength="22.3" lengthAdjust="spacingAndGlyphs">m/z</text>
<path d="M61.07 637.80L61.56 633.48L61.95 628.20h0.70L63.04 633.48L63.53 637.80zM62.77 637.80L63.26 636.45L63.65 634.80h0.70L64.74 636.45L65.23 637.80zM75.67 637.80L76.12 625.21L76.40 595.85L76.81 565.65L76.90 553.90h1.00L77.99 565.65L78.40 595.85L78.68 625.21L79.13 637.80zM77.24 637.80L77.83 632.40L78.35 625.80h0.70L79.57 632.40L80.16 637.80zM84.97 637.80L85.46 635.77L85.85 633.30h0.70L86.94 635.77L87.43 637.80zM89.04 637.80L89.63 631.81L90.15 624.50h0.70L91.37 631.81L91.96 637.80zM94.37 637.80L94.86 636.67L95.25 635.30h0.70L96.34 636.67L96.83 637.80zM98.64 637.80L99.23 632.26L99.75 625.50h0.70L100.97 632.26L101.56 637.80zM104.77 637.80L105.26 636.90L105.65 635.80h0.70L106.74 636.90L107.23 637.80zM111.24 637.80L111.83 626.68L112.35 613.10h0.70L113.57 626.68L114.16 637.80zM113.27 637.80L113.76 634.20L114.15 629.80h0.70L115.24 634.20L115.73 637.80zM118.27 637.80L118.76 635.55L119.15 632.80h0.70L120.24 635.55L120.73 637.80zM120.27 637.80L120.76 635.32L121.15 632.30h0.70L122.24 635.32L122.73 637.80zM127.57 637.80L128.06 633.75L128.45 628.80h0.70L129.54 633.75L130.03 637.80zM133.37 637.80L133.86 636.45L134.25 634.80h0.70L135.34 636.45L135.83 637.80zM142.17 637.80L142.66 636.22L143.05 634.30h0.70L144.14 636.22L144.63 637.80zM149.77 637.80L150.26 636.90L150.65 635.80h0.70L151.74 636.90L152.23 637.80zM156.57 637.80L157.06 634.42L157.45 630.30h0.70L158.54 634.42L159.03 637.80zM166.17 637.80L166.66 636.00L167.05 633.80h0.70L168.14 636.00L168.63 637.80zM171.37 637.80L171.86 633.97L172.25 629.30h0.70L173.34 633.97L173.83 637.80zM176.97 637.80L177.46 636.45L177.85 634.80h0.70L178.94 636.45L179.43 637.80zM183.27 637.80L183.76 632.85L184.15 626.80h0.70L185.24 632.85L185.73 637.80zM188.77 637.80L189.26 636.00L189.65 633.80h0.70L190.74 636.00L191.23 637.80zM191.57 637.80L192.06 636.22L192.45 634.30h0.70L193.54 636.22L194.03 637.80zM199.44 637.80L200.03 626.10L200.55 611.80h0.70L201.77 626.10L202.36 637.80zM200.97 637.80L201.46 634.20L201.85 629.80h0.70L202.94 634.20L203.43 637.80zM206.17 637.80L206.62 624.09L206.90 592.10L207.31 559.20L207.40 546.40h1.00L208.49 559.20L208.90 592.10L209.18 624.09L209.63 637.80zM208.20 637.80L208.56 631.35L208.79 616.30L209.12 600.82L209.10 594.80h1.00L210.08 600.82L210.41 616.30L210.64 631.35L211.00 637.80zM209.74 637.80L210.33 631.50L210.85 623.80h0.70L212.07 631.50L212.66 637.80zM212.54 637.80L213.13 627.45L213.65 614.80h0.70L214.87 627.45L215.46 637.80zM214.60 637.80L214.96 632.89L215.19 621.45L215.52 609.68L215.50 605.10h1.00L216.48 609.68L216.81 621.45L217.04 632.89L217.40 637.80zM216.24 637.80L216.83 631.50L217.35 623.80h0.70L218.57 631.50L219.16 637.80zM217.54 637.80L218.13 632.40L218.65 625.80h0.70L219.87 632.40L220.46 637.80zM219.04 637.80L219.63 632.40L220.15 625.80h0.70L221.37 632.40L221.96 637.80zM220.57 637.80L221.06 634.20L221.45 629.80h0.70L222.54 634.20L223.03 637.80zM223.34 637.80L223.93 628.80L224.45 617.80h0.70L225.67 628.80L226.26 637.80zM225.27 637.80L225.76 634.20L226.15 629.80h0.70L227.24 634.20L227.73 637.80zM227.27 637.80L227.76 636.00L228.15 633.80h0.70L229.24 636.00L229.73 637.80zM229.77 637.80L230.26 634.65L230.65 630.80h0.70L231.74 634.65L232.23 637.80zM232.37 637.80L232.86 633.52L233.25 628.30h0.70L234.34 633.52L234.83 637.80zM234.77 637.80L235.26 636.45L235.65 634.80h0.70L236.74 636.45L237.23 637.80zM238.37 637.80L238.86 635.10L239.25 631.80h0.70L240.34 635.10L240.83 637.80zM240.47 637.80L240.96 636.45L241.35 634.80h0.70L242.44 636.45L242.93 637.80zM252.27 637.80L252.76 636.00L253.15 633.80h0.70L254.24 636.00L254.73 637.80zM252.67 637.80L253.16 636.45L253.55 634.80h0.70L254.64 636.45L255.13 637.80zM267.60 637.80L267.96 630.33L268.15 621.20h0.70L269.04 630.33L269.40 637.80zM268.07 637.80L268.56 636.00L268.95 633.80h0.70L270.04 636.00L270.53 637.80zM284.07 637.80L284.56 636.45L284.95 634.80h0.70L286.04 636.45L286.53 637.80zM295.97 637.80L296.46 636.22L296.85 634.30h0.70L297.94 636.22L298.43 637.80zM30.89 637.80L32.00 636.84L33.11 637.80zM34.31 637.80L35.05 636.01L35.79 637.80zM35.98 637.80L36.74 636.99L37.51 637.80zM38.95 637.80L39.95 637.02L40.94 637.80zM40.66 637.80L41.59 636.79L42.51 637.80zM44.49 637.80L45.10 636.35L45.71 637.80zM45.67 637.80L46.93 636.99L48.18 637.80zM49.14 637.80L50.36 636.07L51.58 637.80zM52.40 637.80L53.59 635.87L54.79 637.80zM54.40 637.80L55.36 636.01L56.33 637.80zM57.70 637.80L58.63 636.41L59.55 637.80zM59.88 637.80L60.72 636.60L61.55 637.80zM60.87 637.80L62.07 636.05L63.27 637.80zM65.01 637.80L66.03 636.23L67.04 637.80zM68.17 637.80L69.27 637.01L70.38 637.80zM70.85 637.80L71.60 636.95L72.36 637.80zM73.23 637.80L74.17 636.85L75.12 637.80zM76.29 637.80L76.99 636.65L77.69 637.80zM78.68 637.80L79.46 636.87L80.24 637.80zM80.39 637.80L81.04 636.69L81.70 637.80zM83.11 637.80L84.00 635.86L84.89 637.80zM86.52 637.80L87.15 635.89L87.79 637.80zM87.35 637.80L88.58 636.07L89.81 637.80zM90.59 637.80L91.50 636.98L92.41 637.80zM93.90 637.80L95.10 635.96L96.30 637.80zM95.83 637.80L96.71 636.00L97.59 637.80zM98.53 637.80L99.86 637.01L101.19 637.80zM101.91 637.80L102.67 636.19L103.43 637.80zM104.48 637.80L105.52 636.39L106.57 637.80zM106.74 637.80L107.60 636.18L108.46 637.80zM108.37 637.80L109.49 636.97L110.60 637.80zM110.17 637.80L110.82 636.88L111.48 637.80zM112.75 637.80L113.75 636.42L114.76 637.80zM114.01 637.80L114.87 636.58L115.73 637.80zM114.80 637.80L116.15 637.20L117.50 637.80zM116.71 637.80L117.51 636.78L118.32 637.80zM119.35 637.80L120.31 637.09L121.26 637.80zM121.80 637.80L122.41 636.03L123.01 637.80zM123.08 637.80L124.41 636.50L125.74 637.80zM125.86 637.80L126.96 636.54L128.06 637.80zM127.87 637.80L128.85 637.16L129.83 637.80zM131.79 637.80L132.58 636.17L133.37 637.80zM134.84 637.80L135.63 636.01L136.43 637.80zM137.61 637.80L138.40 636.70L139.18 637.80zM139.40 637.80L140.26 636.91L141.12 637.80zM140.71 637.80L141.37 636.64L142.04 637.80zM144.04 637.80L144.65 636.36L145.25 637.80zM147.01 637.80L147.97 636.93L148.93 637.80zM149.82 637.80L150.63 636.73L151.45 637.80zM151.69 637.80L152.94 637.01L154.19 637.80zM153.51 637.80L154.27 636.05L155.04 637.80zM155.56 637.80L156.18 636.66L156.81 637.80zM156.64 637.80L157.57 636.69L158.50 637.80zM160.57 637.80L161.20 635.81L161.83 637.80zM162.60 637.80L163.80 637.02L165.01 637.80zM164.76 637.80L165.77 635.95L166.78 637.80zM166.36 637.80L167.15 637.19L167.93 637.80zM169.79 637.80L170.75 636.99L171.71 637.80zM171.67 637.80L172.87 636.72L174.07 637.80zM173.41 637.80L174.51 636.19L175.61 637.80zM177.02 637.80L178.31 636.47L179.60 637.80zM179.57 637.80L180.64 636.40L181.70 637.80zM183.47 637.80L184.15 635.94L184.84 637.80zM184.36 637.80L185.57 636.45L186.78 637.80zM186.85 637.80L188.17 636.78L189.49 637.80zM189.42 637.80L190.06 637.08L190.70 637.80zM190.47 637.80L191.15 636.18L191.83 637.80zM192.95 637.80L194.30 635.99L195.65 637.80zM196.66 637.80L197.73 636.61L198.79 637.80zM200.41 637.80L201.23 636.20L202.04 637.80zM203.68 637.80L204.51 637.05L205.34 637.80zM207.70 637.80L208.50 636.54L209.30 637.80zM211.25 637.80L211.86 636.57L212.46 637.80zM212.09 637.80L212.94 636.84L213.79 637.80zM215.52 637.80L216.76 636.85L217.99 637.80zM218.97 637.80L220.32 636.62L221.66 637.80zM222.81 637.80L223.60 636.52L224.40 637.80zM224.98 637.80L225.98 635.94L226.99 637.80zM226.61 637.80L227.57 636.67L228.52 637.80zM228.51 637.80L229.14 636.40L229.76 637.80zM231.93 637.80L232.60 636.95L233.28 637.80zM234.11 637.80L235.37 636.77L236.63 637.80zM236.63 637.80L237.86 636.47L239.09 637.80zM238.42 637.80L239.50 636.16L240.59 637.80zM241.17 637.80L241.79 635.86L242.40 637.80zM244.15 637.80L245.37 637.00L246.60 637.80zM245.86 637.80L246.84 637.12L247.81 637.80zM249.65 637.80L250.61 636.84L251.58 637.80zM252.44 637.80L253.44 636.86L254.44 637.80zM253.30 637.80L254.47 636.57L255.64 637.80zM255.85 637.80L256.49 636.89L257.12 637.80zM258.30 637.80L259.59 636.60L260.87 637.80zM261.52 637.80L262.81 637.06L264.10 637.80zM265.38 637.80L266.61 636.06L267.83 637.80zM268.55 637.80L269.65 636.19L270.75 637.80zM271.72 637.80L272.42 636.84L273.12 637.80zM274.96 637.80L275.60 636.36L276.24 637.80zM277.54 637.80L278.53 636.35L279.51 637.80zM280.96 637.80L281.85 635.97L282.74 637.80zM284.27 637.80L285.29 636.50L286.32 637.80zM286.60 637.80L287.54 635.89L288.47 637.80zM290.29 637.80L291.39 636.73L292.50 637.80zM294.25 637.80L295.13 636.24L296.01 637.80zM295.45 637.80L296.36 636.53L297.28 637.80zM298.47 637.80L299.81 636.10L301.15 637.80z" fill="#0a0a0a"/>
<text x="4.0" y="522.6" font-size="13.5" fill="#141414" stroke="#141414" stroke-width="0.3" textLength="159.0" lengthAdjust="spacingAndGlyphs" xml:space="preserve">all-L-Asp  + 20S, 9-10 min</text>
<path d="M508.10 546.0V637.8" stroke="#222" stroke-width="1.1" fill="none"/>
<path d="M508.10 637.80h-1.4M508.10 628.62h-1.4M508.10 619.44h-1.4M508.10 610.26h-1.4M508.10 601.08h-1.4M508.10 591.90h-2.2M508.10 582.72h-1.4M508.10 573.54h-1.4M508.10 564.36h-1.4M508.10 555.18h-1.4M508.10 546.00h-3.2" stroke="#222" stroke-width="0.9" fill="none"/>
<path d="M507.60 637.80H927.92" stroke="#0a0a0a" stroke-width="1.7" fill="none"/>
<path d="M508.10 637.80v4.4M514.01 637.80v4.4M519.93 637.80v4.4M525.84 637.80v4.4M531.75 637.80v4.4M537.67 637.80v4.4M543.58 637.80v4.4M549.49 637.80v4.4M555.40 637.80v4.4M561.32 637.80v4.4M567.23 637.80v4.4M573.14 637.80v4.4M579.06 637.80v4.4M584.97 637.80v4.4M590.88 637.80v4.4M596.80 637.80v4.4M602.71 637.80v4.4M608.62 637.80v4.4M614.53 637.80v4.4M620.45 637.80v4.4M626.36 637.80v4.4M632.27 637.80v4.4M638.19 637.80v4.4M644.10 637.80v4.4M650.01 637.80v4.4M655.93 637.80v4.4M661.84 637.80v4.4M667.75 637.80v4.4M673.66 637.80v4.4M679.58 637.80v4.4M685.49 637.80v4.4M691.40 637.80v4.4M697.32 637.80v4.4M703.23 637.80v4.4M709.14 637.80v4.4M715.06 637.80v4.4M720.97 637.80v4.4M726.88 637.80v4.4M732.79 637.80v4.4M738.71 637.80v4.4M744.62 637.80v4.4M750.53 637.80v4.4M756.45 637.80v4.4M762.36 637.80v4.4M768.27 637.80v4.4M774.19 637.80v4.4M780.10 637.80v4.4M786.01 637.80v4.4M791.92 637.80v4.4M797.84 637.80v4.4M803.75 637.80v4.4M809.66 637.80v4.4M815.58 637.80v4.4M821.49 637.80v4.4M827.40 637.80v4.4M833.32 637.80v4.4M839.23 637.80v4.4M845.14 637.80v4.4M851.05 637.80v4.4M856.97 637.80v4.4M862.88 637.80v4.4M868.79 637.80v4.4M874.71 637.80v4.4M880.62 637.80v4.4M886.53 637.80v4.4M892.45 637.80v4.4M898.36 637.80v4.4M904.27 637.80v4.4M910.18 637.80v4.4M916.10 637.80v4.4M922.01 637.80v4.4M927.92 637.80v4.4" stroke="#111" stroke-width="1.15" fill="none"/>
<text x="504.7" y="554.2" font-size="12.8" fill="#141414" stroke="#141414" stroke-width="0.3" text-anchor="end" textLength="21.2" lengthAdjust="spacingAndGlyphs">100</text>
<text x="503.9" y="597.5" font-size="12.8" fill="#141414" stroke="#141414" stroke-width="0.3" text-anchor="end" textLength="11.2" lengthAdjust="spacingAndGlyphs">%</text>
<text x="504.5" y="643.7" font-size="13.0" fill="#141414" stroke="#141414" stroke-width="0.3" text-anchor="end" textLength="7.0" lengthAdjust="spacingAndGlyphs">0</text>
<text x="930.1" y="643.9" font-size="13.5" fill="#141414" stroke="#141414" stroke-width="0.3" textLength="22.3" lengthAdjust="spacingAndGlyphs">m/z</text>
<path d="M513.96 637.80L514.45 636.90L514.84 635.80h0.70L515.93 636.90L516.42 637.80zM524.79 637.80L525.28 636.67L525.67 635.30h0.70L526.76 636.67L527.25 637.80zM528.31 637.80L528.81 636.67L529.20 635.30h0.70L530.29 636.67L530.78 637.80zM540.41 637.80L540.90 636.67L541.29 635.30h0.70L542.38 636.67L542.87 637.80zM553.76 637.80L554.25 636.90L554.64 635.80h0.70L555.73 636.90L556.22 637.80zM563.83 637.80L564.32 634.65L564.71 630.80h0.70L565.80 634.65L566.29 637.80zM565.59 637.80L566.09 636.00L566.48 633.80h0.70L567.57 636.00L568.06 637.80zM568.87 637.80L569.36 636.45L569.75 634.80h0.70L570.84 636.45L571.33 637.80zM584.49 637.80L584.98 636.67L585.37 635.30h0.70L586.46 636.67L586.95 637.80zM588.26 637.80L588.76 636.45L589.15 634.80h0.70L590.24 636.45L590.73 637.80zM590.78 637.80L591.28 634.20L591.67 629.80h0.70L592.75 634.20L593.25 637.80zM598.09 637.80L598.58 634.42L598.97 630.30h0.70L600.06 634.42L600.55 637.80zM599.60 637.80L600.09 636.00L600.48 633.80h0.70L601.57 636.00L602.06 637.80zM606.15 637.80L606.64 635.32L607.03 632.30h0.70L608.12 635.32L608.61 637.80zM614.71 637.80L615.21 636.90L615.59 635.80h0.70L616.68 636.90L617.18 637.80zM629.32 637.80L629.81 636.90L630.20 635.80h0.70L631.29 636.90L631.79 637.80zM635.62 637.80L636.11 636.45L636.50 634.80h0.70L637.59 636.45L638.08 637.80zM653.76 637.80L654.25 636.90L654.64 635.80h0.70L655.73 636.90L656.22 637.80zM731.37 637.80L731.86 636.22L732.25 634.30h0.70L733.34 636.22L733.83 637.80zM747.07 637.80L747.56 636.22L747.95 634.30h0.70L749.04 636.22L749.53 637.80zM757.77 637.80L758.26 637.12L758.65 636.30h0.70L759.74 637.12L760.23 637.80zM774.77 637.80L775.26 635.77L775.65 633.30h0.70L776.74 635.77L777.23 637.80zM813.77 637.80L814.26 635.77L814.65 633.30h0.70L815.74 635.77L816.23 637.80zM820.07 637.80L820.56 637.12L820.95 636.30h0.70L822.04 637.12L822.53 637.80zM836.47 637.80L836.96 637.12L837.35 636.30h0.70L838.44 637.12L838.93 637.80zM857.87 637.80L858.36 636.45L858.75 634.80h0.70L859.84 636.45L860.33 637.80zM863.87 637.80L864.32 624.00L864.60 591.80L865.01 558.68L865.10 545.80h1.00L866.19 558.68L866.60 591.80L866.88 624.00L867.33 637.80zM865.61 637.80L865.92 631.80L866.11 617.80L866.40 603.40L866.30 597.80h1.00L867.20 603.40L867.49 617.80L867.68 631.80L867.99 637.80zM870.47 637.80L870.96 633.30L871.35 627.80h0.70L872.44 633.30L872.93 637.80zM872.97 637.80L873.46 633.07L873.85 627.30h0.70L874.94 633.07L875.43 637.80zM874.97 637.80L875.46 636.00L875.85 633.80h0.70L876.94 636.00L877.43 637.80zM879.77 637.80L880.26 635.77L880.65 633.30h0.70L881.74 635.77L882.23 637.80zM887.37 637.80L887.86 636.90L888.25 635.80h0.70L889.34 636.90L889.83 637.80zM510.69 637.80L512.00 636.28L513.31 637.80zM514.63 637.80L515.68 637.12L516.72 637.80zM517.25 637.80L517.95 636.67L518.65 637.80zM518.76 637.80L519.52 636.76L520.29 637.80zM521.23 637.80L521.89 637.18L522.55 637.80zM524.04 637.80L525.02 636.78L526.00 637.80zM527.58 637.80L528.22 636.84L528.87 637.80zM530.48 637.80L531.57 636.61L532.67 637.80zM533.56 637.80L534.43 636.23L535.31 637.80zM536.68 637.80L537.71 636.83L538.74 637.80zM540.03 637.80L540.70 636.89L541.36 637.80zM542.07 637.80L543.12 636.48L544.16 637.80zM544.72 637.80L545.46 636.56L546.20 637.80zM545.78 637.80L547.00 636.88L548.21 637.80zM547.91 637.80L548.58 637.09L549.26 637.80zM548.67 637.80L549.70 636.92L550.73 637.80zM552.28 637.80L553.16 636.87L554.04 637.80zM553.84 637.80L555.03 636.90L556.21 637.80zM556.99 637.80L557.67 636.94L558.35 637.80zM559.80 637.80L561.03 636.49L562.25 637.80zM561.45 637.80L562.74 636.65L564.03 637.80zM564.79 637.80L565.52 636.25L566.24 637.80zM568.53 637.80L569.44 637.14L570.35 637.80zM569.40 637.80L570.51 636.39L571.63 637.80zM573.12 637.80L574.43 636.40L575.75 637.80zM575.89 637.80L577.05 636.21L578.21 637.80zM578.21 637.80L579.09 636.23L579.97 637.80zM579.72 637.80L580.67 637.12L581.62 637.80zM580.94 637.80L582.26 636.27L583.57 637.80zM582.91 637.80L583.91 637.10L584.90 637.80zM584.21 637.80L585.41 636.66L586.62 637.80zM585.90 637.80L587.17 636.78L588.45 637.80zM588.24 637.80L589.51 636.86L590.78 637.80zM591.83 637.80L592.95 636.30L594.06 637.80zM593.96 637.80L595.19 636.51L596.41 637.80zM597.28 637.80L598.11 636.96L598.93 637.80zM599.32 637.80L600.33 636.43L601.35 637.80zM602.30 637.80L602.98 636.37L603.67 637.80zM604.86 637.80L605.88 636.87L606.90 637.80zM608.07 637.80L609.38 636.95L610.70 637.80zM609.61 637.80L610.62 636.64L611.63 637.80zM611.37 637.80L612.32 636.64L613.28 637.80zM614.07 637.80L614.67 636.48L615.28 637.80zM616.10 637.80L616.81 636.41L617.51 637.80zM619.30 637.80L620.41 637.00L621.52 637.80zM621.01 637.80L621.93 636.75L622.84 637.80zM622.21 637.80L623.17 636.50L624.13 637.80zM625.22 637.80L626.24 636.66L627.26 637.80zM627.54 637.80L628.82 636.90L630.09 637.80zM628.83 637.80L630.08 636.32L631.32 637.80zM631.47 637.80L632.57 636.42L633.68 637.80zM634.55 637.80L635.39 636.91L636.23 637.80zM636.11 637.80L637.43 636.90L638.75 637.80zM638.54 637.80L639.46 636.81L640.37 637.80zM641.89 637.80L642.91 636.72L643.92 637.80zM644.01 637.80L644.67 636.92L645.34 637.80zM645.09 637.80L646.33 636.94L647.56 637.80zM647.89 637.80L648.83 637.09L649.78 637.80zM649.26 637.80L650.20 636.63L651.13 637.80zM652.53 637.80L653.77 636.94L655.01 637.80zM654.44 637.80L655.51 636.22L656.59 637.80zM655.83 637.80L656.64 636.39L657.45 637.80zM657.50 637.80L658.73 637.05L659.96 637.80zM659.10 637.80L660.00 636.46L660.90 637.80zM662.38 637.80L663.04 636.91L663.70 637.80zM666.06 637.80L666.78 636.55L667.51 637.80zM669.97 637.80L670.71 636.29L671.45 637.80zM671.06 637.80L671.77 636.59L672.47 637.80zM673.83 637.80L674.96 636.73L676.10 637.80zM676.46 637.80L677.67 636.43L678.89 637.80zM679.64 637.80L680.48 636.61L681.33 637.80zM680.64 637.80L681.88 637.11L683.13 637.80zM682.67 637.80L683.50 636.77L684.34 637.80zM685.12 637.80L686.36 636.67L687.61 637.80zM687.58 637.80L688.67 636.84L689.76 637.80zM691.07 637.80L691.90 636.27L692.74 637.80zM694.23 637.80L695.56 636.22L696.90 637.80zM695.77 637.80L696.95 636.82L698.13 637.80z" fill="#0a0a0a"/>
<text x="483.0" y="522.6" font-size="13.5" fill="#141414" stroke="#141414" stroke-width="0.3" textLength="175.8" lengthAdjust="spacingAndGlyphs" xml:space="preserve">all-L-isoAsp  + 20S, 9-10 min</text>
<path d="M29.80 703.4V795.1" stroke="#222" stroke-width="1.1" fill="none"/>
<path d="M29.80 795.10h-1.4M29.80 785.93h-1.4M29.80 776.76h-1.4M29.80 767.59h-1.4M29.80 758.42h-1.4M29.80 749.25h-2.2M29.80 740.08h-1.4M29.80 730.91h-1.4M29.80 721.74h-1.4M29.80 712.57h-1.4M29.80 703.40h-3.2" stroke="#222" stroke-width="0.9" fill="none"/>
<path d="M29.30 795.10H449.62" stroke="#0a0a0a" stroke-width="1.7" fill="none"/>
<path d="M29.80 795.10v4.4M35.71 795.10v4.4M41.63 795.10v4.4M47.54 795.10v4.4M53.45 795.10v4.4M59.37 795.10v4.4M65.28 795.10v4.4M71.19 795.10v4.4M77.10 795.10v4.4M83.02 795.10v4.4M88.93 795.10v4.4M94.84 795.10v4.4M100.76 795.10v4.4M106.67 795.10v4.4M112.58 795.10v4.4M118.50 795.10v4.4M124.41 795.10v4.4M130.32 795.10v4.4M136.23 795.10v4.4M142.15 795.10v4.4M148.06 795.10v4.4M153.97 795.10v4.4M159.89 795.10v4.4M165.80 795.10v4.4M171.71 795.10v4.4M177.63 795.10v4.4M183.54 795.10v4.4M189.45 795.10v4.4M195.36 795.10v4.4M201.28 795.10v4.4M207.19 795.10v4.4M213.10 795.10v4.4M219.02 795.10v4.4M224.93 795.10v4.4M230.84 795.10v4.4M236.76 795.10v4.4M242.67 795.10v4.4M248.58 795.10v4.4M254.49 795.10v4.4M260.41 795.10v4.4M266.32 795.10v4.4M272.23 795.10v4.4M278.15 795.10v4.4M284.06 795.10v4.4M289.97 795.10v4.4M295.89 795.10v4.4M301.80 795.10v4.4M307.71 795.10v4.4M313.62 795.10v4.4M319.54 795.10v4.4M325.45 795.10v4.4M331.36 795.10v4.4M337.28 795.10v4.4M343.19 795.10v4.4M349.10 795.10v4.4M355.02 795.10v4.4M360.93 795.10v4.4M366.84 795.10v4.4M372.75 795.10v4.4M378.67 795.10v4.4M384.58 795.10v4.4M390.49 795.10v4.4M396.41 795.10v4.4M402.32 795.10v4.4M408.23 795.10v4.4M414.15 795.10v4.4M420.06 795.10v4.4M425.97 795.10v4.4M431.88 795.10v4.4M437.80 795.10v4.4M443.71 795.10v4.4M449.62 795.10v4.4" stroke="#111" stroke-width="1.15" fill="none"/>
<text x="26.4" y="711.6" font-size="12.8" fill="#141414" stroke="#141414" stroke-width="0.3" text-anchor="end" textLength="21.2" lengthAdjust="spacingAndGlyphs">100</text>
<text x="25.6" y="754.9" font-size="12.8" fill="#141414" stroke="#141414" stroke-width="0.3" text-anchor="end" textLength="11.2" lengthAdjust="spacingAndGlyphs">%</text>
<text x="26.2" y="801.0" font-size="13.0" fill="#141414" stroke="#141414" stroke-width="0.3" text-anchor="end" textLength="7.0" lengthAdjust="spacingAndGlyphs">0</text>
<text x="451.8" y="801.2" font-size="13.5" fill="#141414" stroke="#141414" stroke-width="0.3" textLength="22.3" lengthAdjust="spacingAndGlyphs">m/z</text>
<text x="47.6" y="814.1" font-size="12.9" fill="#141414" stroke="#141414" stroke-width="0.3" text-anchor="middle" textLength="28.2" lengthAdjust="spacingAndGlyphs">1100</text>
<text x="106.7" y="814.1" font-size="12.9" fill="#141414" stroke="#141414" stroke-width="0.3" text-anchor="middle" textLength="28.2" lengthAdjust="spacingAndGlyphs">1150</text>
<text x="165.9" y="814.1" font-size="12.9" fill="#141414" stroke="#141414" stroke-width="0.3" text-anchor="middle" textLength="28.2" lengthAdjust="spacingAndGlyphs">1200</text>
<text x="225.0" y="814.1" font-size="12.9" fill="#141414" stroke="#141414" stroke-width="0.3" text-anchor="middle" textLength="28.2" lengthAdjust="spacingAndGlyphs">1250</text>
<text x="284.1" y="814.1" font-size="12.9" fill="#141414" stroke="#141414" stroke-width="0.3" text-anchor="middle" textLength="28.2" lengthAdjust="spacingAndGlyphs">1300</text>
<text x="343.3" y="814.1" font-size="12.9" fill="#141414" stroke="#141414" stroke-width="0.3" text-anchor="middle" textLength="28.2" lengthAdjust="spacingAndGlyphs">1350</text>
<text x="402.4" y="814.1" font-size="12.9" fill="#141414" stroke="#141414" stroke-width="0.3" text-anchor="middle" textLength="28.2" lengthAdjust="spacingAndGlyphs">1400</text>
<path d="M39.37 795.10L39.86 794.20L40.25 793.10h0.70L41.34 794.20L41.83 795.10zM42.17 795.10L42.66 793.75L43.05 792.10h0.70L44.14 793.75L44.63 795.10zM45.97 795.10L46.46 793.08L46.85 790.60h0.70L47.94 793.08L48.43 795.10zM61.07 795.10L61.56 790.78L61.95 785.50h0.70L63.04 790.78L63.53 795.10zM65.37 795.10L65.86 794.20L66.25 793.10h0.70L67.34 794.20L67.83 795.10zM75.67 795.10L76.12 781.42L76.40 749.50L76.81 716.67L76.90 703.90h1.00L77.99 716.67L78.40 749.50L78.68 781.42L79.13 795.10zM77.44 795.10L78.03 789.25L78.55 782.10h0.70L79.77 789.25L80.36 795.10zM85.47 795.10L85.96 793.30L86.35 791.10h0.70L87.44 793.30L87.93 795.10zM89.27 795.10L89.76 790.38L90.15 784.60h0.70L91.24 790.38L91.73 795.10zM94.37 795.10L94.86 793.75L95.25 792.10h0.70L96.34 793.75L96.83 795.10zM98.87 795.10L99.36 791.27L99.75 786.60h0.70L100.84 791.27L101.33 795.10zM105.67 795.10L106.16 793.98L106.55 792.60h0.70L107.64 793.98L108.13 795.10zM111.24 795.10L111.83 788.39L112.35 780.20h0.70L113.57 788.39L114.16 795.10zM112.97 795.10L113.46 792.85L113.85 790.10h0.70L114.94 792.85L115.43 795.10zM117.47 795.10L117.96 791.27L118.35 786.60h0.70L119.44 791.27L119.93 795.10zM118.97 795.10L119.46 793.75L119.85 792.10h0.70L120.94 793.75L121.43 795.10zM127.37 795.10L127.86 790.15L128.25 784.10h0.70L129.34 790.15L129.83 795.10zM133.37 795.10L133.86 793.52L134.25 791.60h0.70L135.34 793.52L135.83 795.10zM143.47 795.10L143.96 794.20L144.35 793.10h0.70L145.44 794.20L145.93 795.10zM149.77 795.10L150.26 794.20L150.65 793.10h0.70L151.74 794.20L152.23 795.10zM156.57 795.10L157.06 792.18L157.45 788.60h0.70L158.54 792.18L159.03 795.10zM166.17 795.10L166.66 793.98L167.05 792.60h0.70L168.14 793.98L168.63 795.10zM171.37 795.10L171.86 792.18L172.25 788.60h0.70L173.34 792.18L173.83 795.10zM176.97 795.10L177.46 793.52L177.85 791.60h0.70L178.94 793.52L179.43 795.10zM183.27 795.10L183.76 790.60L184.15 785.10h0.70L185.24 790.60L185.73 795.10zM188.77 795.10L189.26 793.30L189.65 791.10h0.70L190.74 793.30L191.23 795.10zM199.44 795.10L200.03 786.96L200.55 777.00h0.70L201.77 786.96L202.36 795.10zM200.87 795.10L201.36 792.40L201.75 789.10h0.70L202.84 792.40L203.33 795.10zM206.28 795.10L206.70 787.28L206.96 769.05L207.35 750.29L207.40 743.00h1.00L208.45 750.29L208.84 769.05L209.10 787.28L209.52 795.10zM208.14 795.10L208.73 787.90L209.25 779.10h0.70L210.47 787.90L211.06 795.10zM212.54 795.10L213.13 788.58L213.65 780.60h0.70L214.87 788.58L215.46 795.10zM214.77 795.10L215.26 790.38L215.65 784.60h0.70L216.74 790.38L217.23 795.10zM215.97 795.10L216.46 792.40L216.85 789.10h0.70L217.94 792.40L218.43 795.10zM219.07 795.10L219.56 792.62L219.95 789.60h0.70L221.04 792.62L221.53 795.10zM221.07 795.10L221.56 793.75L221.95 792.10h0.70L223.04 793.75L223.53 795.10zM239.17 795.10L239.66 794.43L240.05 793.60h0.70L241.14 794.43L241.63 795.10zM252.27 795.10L252.76 793.52L253.15 791.60h0.70L254.24 793.52L254.73 795.10zM252.67 795.10L253.16 793.75L253.55 792.10h0.70L254.64 793.75L255.13 795.10zM267.60 795.10L267.96 789.43L268.15 782.50h0.70L269.04 789.43L269.40 795.10zM268.07 795.10L268.56 793.30L268.95 791.10h0.70L270.04 793.30L270.53 795.10zM284.07 795.10L284.56 793.75L284.95 792.10h0.70L286.04 793.75L286.53 795.10zM295.97 795.10L296.46 793.75L296.85 792.10h0.70L297.94 793.75L298.43 795.10zM30.87 795.10L32.00 794.37L33.13 795.10zM34.15 795.10L34.96 793.37L35.76 795.10zM35.63 795.10L36.72 793.62L37.82 795.10zM37.73 795.10L38.63 793.68L39.53 795.10zM41.20 795.10L41.96 794.36L42.73 795.10zM44.87 795.10L45.67 794.07L46.46 795.10zM48.37 795.10L49.08 793.74L49.79 795.10zM51.01 795.10L51.74 793.70L52.46 795.10zM53.84 795.10L54.69 794.35L55.54 795.10zM54.61 795.10L55.94 794.25L57.27 795.10zM57.22 795.10L58.15 793.31L59.08 795.10zM59.86 795.10L60.97 793.45L62.09 795.10zM61.23 795.10L62.31 793.79L63.38 795.10zM62.60 795.10L63.85 794.39L65.11 795.10zM65.45 795.10L66.39 794.27L67.33 795.10zM67.07 795.10L68.05 793.54L69.02 795.10zM68.69 795.10L69.36 793.52L70.02 795.10zM70.04 795.10L71.20 794.47L72.35 795.10zM71.87 795.10L72.54 793.87L73.21 795.10zM73.98 795.10L74.98 793.68L75.98 795.10zM76.42 795.10L77.35 793.92L78.27 795.10zM79.18 795.10L80.13 794.39L81.09 795.10zM80.54 795.10L81.84 793.46L83.15 795.10zM81.91 795.10L83.04 794.33L84.17 795.10zM84.63 795.10L85.76 794.48L86.88 795.10zM88.73 795.10L89.59 793.99L90.45 795.10zM91.50 795.10L92.30 793.37L93.09 795.10zM93.13 795.10L94.20 794.27L95.27 795.10zM95.72 795.10L96.61 794.19L97.50 795.10zM96.38 795.10L97.71 794.13L99.05 795.10zM99.17 795.10L100.47 794.16L101.77 795.10zM101.92 795.10L102.55 794.20L103.17 795.10zM103.21 795.10L103.99 794.26L104.76 795.10zM106.82 795.10L107.60 794.18L108.39 795.10zM109.60 795.10L110.42 793.40L111.23 795.10zM112.68 795.10L113.70 794.06L114.72 795.10zM115.32 795.10L116.49 793.37L117.66 795.10zM118.14 795.10L119.01 793.49L119.89 795.10zM120.16 795.10L121.17 793.35L122.17 795.10zM123.20 795.10L124.49 794.12L125.77 795.10zM126.02 795.10L127.32 794.20L128.62 795.10zM128.93 795.10L129.73 794.09L130.53 795.10zM129.92 795.10L131.04 794.26L132.16 795.10zM131.53 795.10L132.46 794.19L133.40 795.10zM133.91 795.10L135.10 794.04L136.29 795.10zM135.95 795.10L136.87 794.06L137.79 795.10zM137.54 795.10L138.25 794.23L138.96 795.10zM140.33 795.10L141.43 794.32L142.53 795.10zM142.00 795.10L143.10 793.72L144.19 795.10zM144.06 795.10L145.16 793.38L146.25 795.10zM146.92 795.10L147.83 794.44L148.73 795.10zM148.33 795.10L149.63 793.94L150.93 795.10zM152.11 795.10L153.22 794.43L154.33 795.10zM156.35 795.10L157.02 793.85L157.69 795.10zM159.29 795.10L160.62 793.99L161.96 795.10zM162.95 795.10L164.24 793.51L165.54 795.10zM164.62 795.10L165.45 793.55L166.28 795.10zM165.81 795.10L166.85 794.05L167.90 795.10zM166.68 795.10L167.87 793.96L169.06 795.10zM169.53 795.10L170.35 793.87L171.18 795.10zM173.16 795.10L174.27 794.20L175.38 795.10zM175.86 795.10L177.21 794.50L178.55 795.10zM177.62 795.10L178.91 793.31L180.21 795.10zM181.72 795.10L182.62 793.47L183.51 795.10zM183.65 795.10L184.95 794.09L186.25 795.10zM184.72 795.10L186.04 794.34L187.36 795.10zM188.13 795.10L189.46 793.65L190.79 795.10zM191.10 795.10L192.03 793.50L192.96 795.10zM194.80 795.10L195.73 794.42L196.66 795.10zM197.55 795.10L198.46 793.55L199.38 795.10zM200.59 795.10L201.51 793.34L202.42 795.10zM201.86 795.10L203.10 794.46L204.35 795.10zM204.54 795.10L205.53 794.03L206.52 795.10zM206.12 795.10L206.89 794.23L207.67 795.10zM207.87 795.10L208.66 793.47L209.44 795.10zM208.91 795.10L209.93 793.46L210.95 795.10zM209.90 795.10L211.01 793.69L212.13 795.10zM213.04 795.10L213.96 793.57L214.88 795.10zM214.57 795.10L215.64 793.61L216.71 795.10zM217.87 795.10L218.75 794.28L219.63 795.10zM220.77 795.10L221.82 794.04L222.87 795.10zM223.38 795.10L224.24 793.59L225.10 795.10zM225.90 795.10L226.73 793.51L227.57 795.10zM227.56 795.10L228.26 793.74L228.96 795.10zM230.56 795.10L231.83 794.17L233.11 795.10zM233.44 795.10L234.43 794.32L235.43 795.10zM236.41 795.10L237.48 793.92L238.56 795.10zM238.86 795.10L239.59 793.35L240.32 795.10zM242.00 795.10L242.98 794.47L243.96 795.10zM243.14 795.10L244.18 794.34L245.22 795.10zM246.99 795.10L247.89 794.13L248.80 795.10zM249.46 795.10L250.32 793.77L251.19 795.10zM251.36 795.10L252.38 793.48L253.39 795.10zM253.09 795.10L254.43 793.52L255.78 795.10zM255.90 795.10L256.73 794.48L257.56 795.10zM259.68 795.10L260.43 794.29L261.17 795.10zM262.57 795.10L263.80 794.36L265.04 795.10zM264.44 795.10L265.48 794.03L266.53 795.10zM265.89 795.10L266.82 793.57L267.75 795.10zM269.47 795.10L270.13 793.58L270.79 795.10zM272.81 795.10L273.60 793.51L274.38 795.10zM275.37 795.10L276.37 794.25L277.37 795.10zM278.63 795.10L279.63 794.05L280.63 795.10zM279.95 795.10L281.02 793.46L282.09 795.10zM283.35 795.10L284.51 794.40L285.67 795.10zM285.01 795.10L285.78 793.83L286.56 795.10zM288.53 795.10L289.49 794.37L290.44 795.10zM291.25 795.10L291.90 794.04L292.55 795.10zM294.03 795.10L294.90 793.33L295.77 795.10zM297.79 795.10L298.59 794.09L299.40 795.10z" fill="#0a0a0a"/>
<text x="4.0" y="680.0" font-size="13.5" fill="#141414" stroke="#141414" stroke-width="0.3" textLength="165.8" lengthAdjust="spacingAndGlyphs" xml:space="preserve">all-L-Asp  + 20S, 19-20 min</text>
<path d="M508.10 703.4V795.1" stroke="#222" stroke-width="1.1" fill="none"/>
<path d="M508.10 795.10h-1.4M508.10 785.93h-1.4M508.10 776.76h-1.4M508.10 767.59h-1.4M508.10 758.42h-1.4M508.10 749.25h-2.2M508.10 740.08h-1.4M508.10 730.91h-1.4M508.10 721.74h-1.4M508.10 712.57h-1.4M508.10 703.40h-3.2" stroke="#222" stroke-width="0.9" fill="none"/>
<path d="M507.60 795.10H927.92" stroke="#0a0a0a" stroke-width="1.7" fill="none"/>
<path d="M508.10 795.10v4.4M514.01 795.10v4.4M519.93 795.10v4.4M525.84 795.10v4.4M531.75 795.10v4.4M537.67 795.10v4.4M543.58 795.10v4.4M549.49 795.10v4.4M555.40 795.10v4.4M561.32 795.10v4.4M567.23 795.10v4.4M573.14 795.10v4.4M579.06 795.10v4.4M584.97 795.10v4.4M590.88 795.10v4.4M596.80 795.10v4.4M602.71 795.10v4.4M608.62 795.10v4.4M614.53 795.10v4.4M620.45 795.10v4.4M626.36 795.10v4.4M632.27 795.10v4.4M638.19 795.10v4.4M644.10 795.10v4.4M650.01 795.10v4.4M655.93 795.10v4.4M661.84 795.10v4.4M667.75 795.10v4.4M673.66 795.10v4.4M679.58 795.10v4.4M685.49 795.10v4.4M691.40 795.10v4.4M697.32 795.10v4.4M703.23 795.10v4.4M709.14 795.10v4.4M715.06 795.10v4.4M720.97 795.10v4.4M726.88 795.10v4.4M732.79 795.10v4.4M738.71 795.10v4.4M744.62 795.10v4.4M750.53 795.10v4.4M756.45 795.10v4.4M762.36 795.10v4.4M768.27 795.10v4.4M774.19 795.10v4.4M780.10 795.10v4.4M786.01 795.10v4.4M791.92 795.10v4.4M797.84 795.10v4.4M803.75 795.10v4.4M809.66 795.10v4.4M815.58 795.10v4.4M821.49 795.10v4.4M827.40 795.10v4.4M833.32 795.10v4.4M839.23 795.10v4.4M845.14 795.10v4.4M851.05 795.10v4.4M856.97 795.10v4.4M862.88 795.10v4.4M868.79 795.10v4.4M874.71 795.10v4.4M880.62 795.10v4.4M886.53 795.10v4.4M892.45 795.10v4.4M898.36 795.10v4.4M904.27 795.10v4.4M910.18 795.10v4.4M916.10 795.10v4.4M922.01 795.10v4.4M927.92 795.10v4.4" stroke="#111" stroke-width="1.15" fill="none"/>
<text x="504.7" y="711.6" font-size="12.8" fill="#141414" stroke="#141414" stroke-width="0.3" text-anchor="end" textLength="21.2" lengthAdjust="spacingAndGlyphs">100</text>
<text x="503.9" y="754.9" font-size="12.8" fill="#141414" stroke="#141414" stroke-width="0.3" text-anchor="end" textLength="11.2" lengthAdjust="spacingAndGlyphs">%</text>
<text x="504.5" y="801.0" font-size="13.0" fill="#141414" stroke="#141414" stroke-width="0.3" text-anchor="end" textLength="7.0" lengthAdjust="spacingAndGlyphs">0</text>
<text x="930.1" y="801.2" font-size="13.5" fill="#141414" stroke="#141414" stroke-width="0.3" textLength="22.3" lengthAdjust="spacingAndGlyphs">m/z</text>
<text x="525.9" y="814.1" font-size="12.9" fill="#141414" stroke="#141414" stroke-width="0.3" text-anchor="middle" textLength="28.2" lengthAdjust="spacingAndGlyphs">1100</text>
<text x="585.0" y="814.1" font-size="12.9" fill="#141414" stroke="#141414" stroke-width="0.3" text-anchor="middle" textLength="28.2" lengthAdjust="spacingAndGlyphs">1150</text>
<text x="644.2" y="814.1" font-size="12.9" fill="#141414" stroke="#141414" stroke-width="0.3" text-anchor="middle" textLength="28.2" lengthAdjust="spacingAndGlyphs">1200</text>
<text x="703.3" y="814.1" font-size="12.9" fill="#141414" stroke="#141414" stroke-width="0.3" text-anchor="middle" textLength="28.2" lengthAdjust="spacingAndGlyphs">1250</text>
<text x="762.4" y="814.1" font-size="12.9" fill="#141414" stroke="#141414" stroke-width="0.3" text-anchor="middle" textLength="28.2" lengthAdjust="spacingAndGlyphs">1300</text>
<text x="821.5" y="814.1" font-size="12.9" fill="#141414" stroke="#141414" stroke-width="0.3" text-anchor="middle" textLength="28.2" lengthAdjust="spacingAndGlyphs">1350</text>
<text x="880.7" y="814.1" font-size="12.9" fill="#141414" stroke="#141414" stroke-width="0.3" text-anchor="middle" textLength="28.2" lengthAdjust="spacingAndGlyphs">1400</text>
<path d="M512.70 795.10L513.19 794.20L513.58 793.10h0.70L514.67 794.20L515.16 795.10zM524.79 795.10L525.28 793.30L525.67 791.10h0.70L526.76 793.30L527.25 795.10zM528.31 795.10L528.81 793.30L529.20 791.10h0.70L530.29 793.30L530.78 795.10zM540.41 795.10L540.90 793.75L541.29 792.10h0.70L542.38 793.75L542.87 795.10zM553.76 795.10L554.25 793.98L554.64 792.60h0.70L555.73 793.98L556.22 795.10zM563.83 795.10L564.32 791.50L564.71 787.10h0.70L565.80 791.50L566.29 795.10zM565.59 795.10L566.09 793.30L566.48 791.10h0.70L567.57 793.30L568.06 795.10zM568.87 795.10L569.36 793.30L569.75 791.10h0.70L570.84 793.30L571.33 795.10zM584.49 795.10L584.98 793.30L585.37 791.10h0.70L586.46 793.30L586.95 795.10zM588.26 795.10L588.76 793.30L589.15 791.10h0.70L590.24 793.30L590.73 795.10zM590.78 795.10L591.28 791.50L591.67 787.10h0.70L592.75 791.50L593.25 795.10zM598.09 795.10L598.58 791.27L598.97 786.60h0.70L600.06 791.27L600.55 795.10zM599.60 795.10L600.09 793.30L600.48 791.10h0.70L601.57 793.30L602.06 795.10zM606.15 795.10L606.64 792.62L607.03 789.60h0.70L608.12 792.62L608.61 795.10zM614.71 795.10L615.21 793.75L615.59 792.10h0.70L616.68 793.75L617.18 795.10zM629.32 795.10L629.81 794.20L630.20 793.10h0.70L631.29 794.20L631.79 795.10zM635.62 795.10L636.11 793.75L636.50 792.10h0.70L637.59 793.75L638.08 795.10zM649.98 795.10L650.47 794.20L650.86 793.10h0.70L651.95 794.20L652.44 795.10zM653.76 795.10L654.25 794.20L654.64 793.10h0.70L655.73 794.20L656.22 795.10zM731.37 795.10L731.86 793.30L732.25 791.10h0.70L733.34 793.30L733.83 795.10zM747.07 795.10L747.56 793.75L747.95 792.10h0.70L749.04 793.75L749.53 795.10zM757.77 795.10L758.26 793.30L758.65 791.10h0.70L759.74 793.30L760.23 795.10zM774.77 795.10L775.26 792.85L775.65 790.10h0.70L776.74 792.85L777.23 795.10zM813.77 795.10L814.26 793.08L814.65 790.60h0.70L815.74 793.08L816.23 795.10zM820.07 795.10L820.56 794.43L820.95 793.60h0.70L822.04 794.43L822.53 795.10zM836.47 795.10L836.96 794.43L837.35 793.60h0.70L838.44 794.43L838.93 795.10zM857.87 795.10L858.36 793.52L858.75 791.60h0.70L859.84 793.52L860.33 795.10zM863.87 795.10L864.32 781.45L864.60 749.60L865.01 716.84L865.10 704.10h1.00L866.19 716.84L866.60 749.60L866.88 781.45L867.33 795.10zM865.61 795.10L865.92 789.10L866.11 775.10L866.40 760.70L866.30 755.10h1.00L867.20 760.70L867.49 775.10L867.68 789.10L867.99 795.10zM870.47 795.10L870.96 790.15L871.35 784.10h0.70L872.44 790.15L872.93 795.10zM872.47 795.10L872.96 791.05L873.35 786.10h0.70L874.44 791.05L874.93 795.10zM874.27 795.10L874.76 792.85L875.15 790.10h0.70L876.24 792.85L876.73 795.10zM878.07 795.10L878.56 793.75L878.95 792.10h0.70L880.04 793.75L880.53 795.10zM880.07 795.10L880.56 793.30L880.95 791.10h0.70L882.04 793.30L882.53 795.10zM887.37 795.10L887.86 794.20L888.25 793.10h0.70L889.34 794.20L889.83 795.10zM510.77 795.10L512.00 793.79L513.23 795.10zM512.80 795.10L513.55 793.50L514.29 795.10zM515.39 795.10L516.56 794.41L517.73 795.10zM516.87 795.10L518.01 793.79L519.16 795.10zM520.06 795.10L521.31 794.06L522.56 795.10zM524.29 795.10L525.28 794.38L526.26 795.10zM528.22 795.10L529.15 793.76L530.08 795.10zM530.40 795.10L531.06 793.55L531.73 795.10zM533.63 795.10L534.35 793.66L535.06 795.10zM535.32 795.10L536.33 794.19L537.33 795.10zM537.13 795.10L538.43 793.61L539.72 795.10zM539.72 795.10L540.38 793.61L541.03 795.10zM540.47 795.10L541.67 793.83L542.87 795.10zM543.88 795.10L545.12 793.51L546.37 795.10zM545.63 795.10L546.92 793.76L548.22 795.10zM547.49 795.10L548.20 794.01L548.92 795.10zM548.53 795.10L549.63 794.02L550.74 795.10zM552.58 795.10L553.55 794.37L554.53 795.10zM556.55 795.10L557.55 793.73L558.55 795.10zM558.48 795.10L559.27 793.87L560.07 795.10zM561.31 795.10L562.21 793.85L563.10 795.10zM564.64 795.10L565.59 794.10L566.54 795.10zM568.35 795.10L569.09 794.25L569.82 795.10zM570.55 795.10L571.81 794.07L573.06 795.10zM572.91 795.10L573.56 794.13L574.20 795.10zM574.97 795.10L575.91 794.19L576.84 795.10zM577.86 795.10L579.20 794.46L580.54 795.10zM581.33 795.10L582.33 793.69L583.34 795.10zM584.17 795.10L585.06 794.09L585.96 795.10zM585.91 795.10L586.73 794.20L587.55 795.10zM587.54 795.10L588.73 793.59L589.93 795.10zM590.86 795.10L591.66 794.48L592.45 795.10zM593.37 795.10L594.29 793.81L595.20 795.10zM596.38 795.10L597.19 793.59L597.99 795.10zM598.49 795.10L599.33 793.74L600.17 795.10zM601.88 795.10L602.50 794.10L603.11 795.10zM603.69 795.10L604.88 794.43L606.07 795.10zM607.14 795.10L608.42 793.97L609.69 795.10zM609.33 795.10L610.06 794.05L610.79 795.10zM610.56 795.10L611.20 793.68L611.84 795.10zM613.88 795.10L615.01 793.94L616.13 795.10zM614.96 795.10L616.16 793.59L617.35 795.10zM616.76 795.10L617.47 794.32L618.17 795.10zM618.78 795.10L619.98 794.42L621.18 795.10zM621.68 795.10L622.47 793.80L623.26 795.10zM624.34 795.10L625.43 794.05L626.52 795.10zM626.43 795.10L627.66 793.51L628.90 795.10zM630.42 795.10L631.16 794.16L631.90 795.10zM631.30 795.10L632.62 794.37L633.95 795.10zM633.69 795.10L634.47 793.63L635.24 795.10zM636.50 795.10L637.33 794.25L638.16 795.10zM639.26 795.10L640.57 793.89L641.88 795.10zM641.63 795.10L642.28 794.23L642.93 795.10zM642.90 795.10L643.92 793.52L644.95 795.10zM645.18 795.10L646.35 794.16L647.52 795.10zM648.78 795.10L649.42 794.34L650.05 795.10zM649.79 795.10L650.94 793.68L652.09 795.10zM651.79 795.10L652.62 794.27L653.45 795.10zM654.88 795.10L655.66 793.75L656.43 795.10zM656.33 795.10L657.64 794.26L658.95 795.10zM659.52 795.10L660.30 793.56L661.08 795.10zM661.90 795.10L663.20 793.93L664.49 795.10zM664.08 795.10L665.29 794.27L666.50 795.10zM668.30 795.10L669.15 793.99L670.00 795.10zM669.11 795.10L670.40 794.06L671.70 795.10zM671.45 795.10L672.47 794.05L673.50 795.10zM673.20 795.10L674.19 794.39L675.18 795.10zM677.26 795.10L678.09 793.63L678.92 795.10zM680.41 795.10L681.44 793.67L682.48 795.10zM682.39 795.10L683.52 794.30L684.65 795.10zM685.87 795.10L686.58 794.29L687.29 795.10zM686.66 795.10L687.92 793.67L689.19 795.10zM689.34 795.10L690.47 793.89L691.60 795.10zM691.01 795.10L691.94 793.98L692.88 795.10zM694.32 795.10L695.55 794.34L696.79 795.10zM695.71 795.10L696.98 793.89L698.25 795.10zM697.60 795.10L698.21 794.02L698.81 795.10z" fill="#0a0a0a"/>
<text x="483.0" y="680.0" font-size="13.5" fill="#141414" stroke="#141414" stroke-width="0.3" textLength="182.6" lengthAdjust="spacingAndGlyphs" xml:space="preserve">all-L-isoAsp  + 20S, 19-20 min</text>
<text x="208.0" y="276.7" font-size="13.0" fill="#141414" stroke="#141414" stroke-width="0.3" text-anchor="middle" textLength="15.0" lengthAdjust="spacingAndGlyphs">+3</text>
<text x="388.5" y="56.5" font-size="13.0" fill="#141414" stroke="#141414" stroke-width="0.3" text-anchor="middle" textLength="15.0" lengthAdjust="spacingAndGlyphs">+3</text>
<text x="76.7" y="432.0" font-size="13.0" fill="#141414" stroke="#141414" stroke-width="0.3" text-anchor="middle" textLength="15.0" lengthAdjust="spacingAndGlyphs">+2</text>
<text x="867.8" y="61.1" font-size="13.0" fill="#141414" stroke="#141414" stroke-width="0.3" text-anchor="middle" textLength="15.0" lengthAdjust="spacingAndGlyphs">+3</text>
<text x="-0.4" y="15.8" font-size="22" fill="#333">a)</text>
<text x="481.4" y="15.8" font-size="22" fill="#333">b)</text>
<text x="-0.4" y="871.0" font-size="22" fill="#333">c)</text>
<text x="-0.4" y="986.0" font-size="22" fill="#333">d)</text>
<rect x="119.8" y="844.7" width="723.0" height="22.6" fill="#fefedc"/>
<rect x="119.8" y="844.7" width="723.0" height="22.6" fill="none" stroke="#dcdcdc" stroke-width="0.8" stroke-dasharray="3 2.5"/>
<rect x="119.8" y="874.2" width="723.0" height="23.2" fill="#e4f5fe"/>
<rect x="119.8" y="874.2" width="723.0" height="23.2" fill="none" stroke="#dcdcdc" stroke-width="0.8" stroke-dasharray="3 2.5"/>
<rect x="119.8" y="905.3" width="723.0" height="23.5" fill="#fef6e6"/>
<rect x="119.8" y="905.3" width="723.0" height="23.5" fill="none" stroke="#dcdcdc" stroke-width="0.8" stroke-dasharray="3 2.5"/>
<rect x="119.8" y="935.5" width="723.0" height="24.0" fill="#f7dde6"/>
<text x="124.8" y="860.6" font-size="12.5" fill="#111" stroke="#111" stroke-width="0.15" textLength="50.2" lengthAdjust="spacingAndGlyphs">all-L-Asp</text>
<text x="124.8" y="889.2" font-size="12.5" fill="#111" stroke="#111" stroke-width="0.15" textLength="66.8" lengthAdjust="spacingAndGlyphs">all-L-isoAsp</text>
<text x="124.8" y="923.0" font-size="12.5" fill="#111" stroke="#111" stroke-width="0.15" textLength="111.2" lengthAdjust="spacingAndGlyphs">all-L-Asp fragment I</text>
<text x="124.8" y="954.6" font-size="12.5" fill="#111" stroke="#111" stroke-width="0.15" textLength="114.8" lengthAdjust="spacingAndGlyphs">all-L-Asp fragment II</text>
<text x="616.9" y="859.5" font-size="12.6" fill="#333" stroke="#333" stroke-width="0.12" textLength="211.8" lengthAdjust="spacingAndGlyphs">(aa #1-38, m/z - 1,397.5, 4,189.5 Da)</text>
<text x="616.9" y="889.4" font-size="12.6" fill="#333" stroke="#333" stroke-width="0.12" textLength="215.4" lengthAdjust="spacingAndGlyphs">(aa # 1-38, m/z - 1,397.5, 4,189.5 Da)</text>
<text x="616.9" y="922.7" font-size="12.6" fill="#333" stroke="#333" stroke-width="0.12" textLength="215.4" lengthAdjust="spacingAndGlyphs">(aa # 5-38, m/z - 1,240.6, 3,718.9 Da)</text>
<text x="616.9" y="954.1" font-size="12.6" fill="#333" stroke="#333" stroke-width="0.12" textLength="215.4" lengthAdjust="spacingAndGlyphs">(aa # 5-25, m/z - 1,135.7, 2,269.5 Da)</text>
<text x="253.3" y="860.0" font-size="14.17" fill="#7a7a7a" textLength="349.7" lengthAdjust="spacingAndGlyphs" font-family='"Liberation Mono", "Courier New", monospace'>VKKDQLGKNE EGAPQEGILE DMPVDPDNEA YEMPSEEG</text>
<text x="253.3" y="890.8" font-size="14.17" fill="#7a7a7a" textLength="352.9" lengthAdjust="spacingAndGlyphs" font-family='"Liberation Mono", "Courier New", monospace'>VKK<tspan font-family='"Liberation Sans", Arial, Helvetica, sans-serif' font-weight="bold" fill="#222">D</tspan>QLGKNE EGAPQEGILE <tspan font-family='"Liberation Sans", Arial, Helvetica, sans-serif' font-weight="bold" fill="#222">D</tspan>MPV<tspan font-family='"Liberation Sans", Arial, Helvetica, sans-serif' font-weight="bold" fill="#222">D</tspan>P<tspan font-family='"Liberation Sans", Arial, Helvetica, sans-serif' font-weight="bold" fill="#222">D</tspan>NEA YEMPSEEG</text>
<text x="291.0" y="922.8" font-size="14.17" fill="#7a7a7a" textLength="314.7" lengthAdjust="spacingAndGlyphs" font-family='"Liberation Mono", "Courier New", monospace'>QLGKNE EGAPQEGILE DMPVDPDNEA YEMPSEEG</text>
<text x="291.0" y="955.0" font-size="14.17" fill="#7a7a7a" textLength="195.6" lengthAdjust="spacingAndGlyphs" font-family='"Liberation Mono", "Courier New", monospace'>QLGKNE EGAPQEGILE DMPVD</text>
<text x="326.6" y="837.6" font-size="15.2" fill="#5a5a5a" textLength="16.0" lengthAdjust="spacingAndGlyphs" font-family='"Liberation Mono", "Courier New", monospace'>10</text>
<path d="M327.1 840.4H340.40000000000003" stroke="#555" stroke-width="1.2"/>
<text x="423.2" y="837.6" font-size="15.2" fill="#5a5a5a" textLength="14.8" lengthAdjust="spacingAndGlyphs" font-family='"Liberation Mono", "Courier New", monospace'>20</text>
<path d="M423.7 840.4H435.8" stroke="#555" stroke-width="1.2"/>
<text x="513.0" y="837.6" font-size="15.2" fill="#5a5a5a" textLength="16.0" lengthAdjust="spacingAndGlyphs" font-family='"Liberation Mono", "Courier New", monospace'>30</text>
<path d="M513.5 840.4H526.8" stroke="#555" stroke-width="1.2"/>
<path d="M96.2 987.5V1370.3M96.2 1365.3H841.2" stroke="#c9c9c9" stroke-width="1.1" fill="none"/>
<path d="M96.2 1365.3h-5M96.2 1292.3h-5M96.2 1219.3h-5M96.2 1146.3h-5M96.2 1073.3h-5M96.2 1000.3h-5" stroke="#c9c9c9" stroke-width="1.1" fill="none"/>
<text x="81.6" y="1370.9" font-size="15.6" fill="#111" stroke="#111" stroke-width="0.3" text-anchor="end">0.0</text>
<text x="81.6" y="1297.9" font-size="15.6" fill="#111" stroke="#111" stroke-width="0.3" text-anchor="end">0.2</text>
<text x="81.6" y="1224.9" font-size="15.6" fill="#111" stroke="#111" stroke-width="0.3" text-anchor="end">0.4</text>
<text x="81.6" y="1151.9" font-size="15.6" fill="#111" stroke="#111" stroke-width="0.3" text-anchor="end">0.6</text>
<text x="81.6" y="1078.9" font-size="15.6" fill="#111" stroke="#111" stroke-width="0.3" text-anchor="end">0.8</text>
<text x="81.6" y="1005.9" font-size="15.6" fill="#111" stroke="#111" stroke-width="0.3" text-anchor="end">1.0</text>
<text x="96.2" y="1392.9" font-size="15.6" fill="#111" stroke="#111" stroke-width="0.3" text-anchor="middle" textLength="9.4" lengthAdjust="spacingAndGlyphs">0</text>
<text x="277.8" y="1392.9" font-size="15.6" fill="#111" stroke="#111" stroke-width="0.3" text-anchor="middle" textLength="9.4" lengthAdjust="spacingAndGlyphs">5</text>
<text x="459.4" y="1392.9" font-size="15.6" fill="#111" stroke="#111" stroke-width="0.3" text-anchor="middle" textLength="18.6" lengthAdjust="spacingAndGlyphs">10</text>
<text x="641.0" y="1392.9" font-size="15.6" fill="#111" stroke="#111" stroke-width="0.3" text-anchor="middle" textLength="18.6" lengthAdjust="spacingAndGlyphs">15</text>
<text x="822.6" y="1392.9" font-size="15.6" fill="#111" stroke="#111" stroke-width="0.3" text-anchor="middle" textLength="18.6" lengthAdjust="spacingAndGlyphs">20</text>
<text x="417.6" y="1422.8" font-size="21.4" fill="#111" stroke="#111" stroke-width="0.1" textLength="102.8" lengthAdjust="spacingAndGlyphs">Time (min)</text>
<text transform="translate(21.1 1303.7) rotate(-90)" font-size="21.8" fill="#111" stroke="#111" stroke-width="0.1" textLength="213.4" lengthAdjust="spacingAndGlyphs">Fractional Abundance</text>
<path d="M132.52 1072.20V1099.21M128.32 1072.20h8.4M128.32 1099.21h8.4M168.84 1097.02V1141.55M164.64 1097.02h8.4M164.64 1141.55h8.4M205.16 1128.78V1213.46M200.96 1128.78h8.4M200.96 1213.46h8.4M241.48 1154.33V1252.15M237.28 1154.33h8.4M237.28 1252.15h8.4M277.80 1191.34V1288.43M273.60 1191.34h8.4M273.60 1288.43h8.4M314.12 1215.72V1307.70M309.92 1215.72h8.4M309.92 1307.70h8.4M350.44 1242.33V1323.36M346.24 1242.33h8.4M346.24 1323.36h8.4M386.76 1271.13V1339.02M382.56 1271.13h8.4M382.56 1339.02h8.4M423.08 1286.97V1337.78M418.88 1286.97h8.4M418.88 1337.78h8.4M459.40 1308.80V1358.80M455.20 1308.80h8.4M455.20 1358.80h8.4M495.72 1322.60V1359.83M491.52 1322.60h8.4M491.52 1359.83h8.4M532.04 1332.82V1363.47M527.84 1332.82h8.4M527.84 1363.47h8.4M568.36 1338.55V1360.45M564.16 1338.55h8.4M564.16 1360.45h8.4M604.68 1344.49V1366.39M600.48 1344.49h8.4M600.48 1366.39h8.4M641.00 1349.53V1366.76M636.80 1349.53h8.4M636.80 1366.76h8.4M677.32 1351.17V1367.23M673.12 1351.17h8.4M673.12 1367.23h8.4M713.64 1353.04V1366.69M709.44 1353.04h8.4M709.44 1366.69h8.4M749.96 1354.82V1367.02M745.76 1354.82h8.4M745.76 1367.02h8.4M786.28 1356.72V1366.36M782.08 1356.72h8.4M782.08 1366.36h8.4M822.60 1357.96V1366.36M818.40 1357.96h8.4M818.40 1366.36h8.4" stroke="#606060" stroke-width="1.15" fill="none"/>
<path d="M132.52 1274.41V1297.77M128.32 1274.41h8.4M128.32 1297.77h8.4M168.84 1237.88V1275.47M164.64 1237.88h8.4M164.64 1275.47h8.4M205.16 1174.55V1246.82M200.96 1174.55h8.4M200.96 1246.82h8.4M241.48 1145.20V1229.15M237.28 1145.20h8.4M237.28 1229.15h8.4M277.80 1115.28V1195.58M273.60 1115.28h8.4M273.60 1195.58h8.4M314.12 1106.15V1180.61M309.92 1106.15h8.4M309.92 1180.61h8.4M350.44 1097.39V1163.09M346.24 1097.39h8.4M346.24 1163.09h8.4M386.76 1088.63V1131.70M382.56 1088.63h8.4M382.56 1131.70h8.4M423.08 1091.91V1129.88M418.88 1091.91h8.4M418.88 1129.88h8.4M459.40 1089.87V1108.12M455.20 1089.87h8.4M455.20 1108.12h8.4M495.72 1089.65V1105.42M491.52 1089.65h8.4M491.52 1105.42h8.4M532.04 1091.70V1106.30M527.84 1091.70h8.4M527.84 1106.30h8.4M568.36 1090.13V1116.70M564.16 1090.13h8.4M564.16 1116.70h8.4M604.68 1093.27V1117.36M600.48 1093.27h8.4M600.48 1117.36h8.4M641.00 1098.85V1120.75M636.80 1098.85h8.4M636.80 1120.75h8.4M677.32 1100.75V1135.06M673.12 1100.75h8.4M673.12 1135.06h8.4M713.64 1106.00V1138.56M709.44 1106.00h8.4M709.44 1138.56h8.4M749.96 1107.43V1149.77M745.76 1107.43h8.4M745.76 1149.77h8.4M786.28 1111.26V1155.06M782.08 1111.26h8.4M782.08 1155.06h8.4M822.60 1112.46V1165.75M818.40 1112.46h8.4M818.40 1165.75h8.4" stroke="#606060" stroke-width="1.15" fill="none"/>
<path d="M132.52 1357.27V1360.19M128.32 1357.27h8.4M128.32 1360.19h8.4M168.84 1351.07V1358.73M164.64 1351.07h8.4M164.64 1358.73h8.4M205.16 1342.49V1354.53M200.96 1342.49h8.4M200.96 1354.53h8.4M241.48 1329.53V1350.70M237.28 1329.53h8.4M237.28 1350.70h8.4M277.80 1324.97V1346.50M273.60 1324.97h8.4M273.60 1346.50h8.4M314.12 1311.06V1341.72M309.92 1311.06h8.4M309.92 1341.72h8.4M350.44 1299.75V1336.25M346.24 1299.75h8.4M346.24 1336.25h8.4M386.76 1300.51V1328.62M382.56 1300.51h8.4M382.56 1328.62h8.4M423.08 1293.98V1321.28M418.88 1293.98h8.4M418.88 1321.28h8.4M459.40 1279.89V1314.20M455.20 1279.89h8.4M455.20 1314.20h8.4M495.72 1275.66V1306.32M491.52 1275.66h8.4M491.52 1306.32h8.4M532.04 1264.74V1301.24M527.84 1264.74h8.4M527.84 1301.24h8.4M568.36 1258.10V1295.33M564.16 1258.10h8.4M564.16 1295.33h8.4M604.68 1249.45V1289.38M600.48 1249.45h8.4M600.48 1289.38h8.4M641.00 1243.94V1280.07M636.80 1243.94h8.4M636.80 1280.07h8.4M677.32 1229.70V1276.28M673.12 1229.70h8.4M673.12 1276.28h8.4M713.64 1224.96V1270.22M709.44 1224.96h8.4M709.44 1270.22h8.4M749.96 1213.93V1266.49M745.76 1213.93h8.4M745.76 1266.49h8.4M786.28 1208.71V1261.64M782.08 1208.71h8.4M782.08 1261.64h8.4M822.60 1198.60V1258.76M818.40 1198.60h8.4M818.40 1258.76h8.4" stroke="#606060" stroke-width="1.15" fill="none"/>
<path d="M532.04 998.47V1007.96M527.84 998.47h8.4M527.84 1007.96h8.4M604.68 998.29V1007.05M600.48 998.29h8.4M600.48 1007.05h8.4M641.00 998.47V1007.96M636.80 998.47h8.4M636.80 1007.96h8.4" stroke="#606060" stroke-width="1.15" fill="none"/>
<path d="M132.52 1085.71C138.57 1091.31 156.73 1105.06 168.84 1119.29C180.95 1133.52 193.05 1157.13 205.16 1171.12C217.27 1185.11 229.37 1191.78 241.48 1203.24C253.59 1214.70 265.69 1230.14 277.80 1239.89C289.91 1249.63 302.01 1254.55 314.12 1261.71C326.23 1268.87 338.33 1275.62 350.44 1282.85C362.55 1290.07 374.65 1300.15 386.76 1305.08C398.87 1310.00 410.97 1307.59 423.08 1312.38C435.19 1317.16 447.29 1328.99 459.40 1333.80C471.51 1338.61 483.61 1338.82 495.72 1341.21C507.83 1343.60 519.93 1346.76 532.04 1348.14C544.15 1349.53 556.25 1348.28 568.36 1349.50C580.47 1350.71 592.57 1354.00 604.68 1355.44C616.79 1356.89 628.89 1357.52 641.00 1358.15C653.11 1358.77 665.21 1358.92 677.32 1359.20C689.43 1359.49 701.53 1359.58 713.64 1359.86C725.75 1360.15 737.85 1360.64 749.96 1360.92C762.07 1361.20 774.17 1361.33 786.28 1361.54C798.39 1361.75 816.55 1362.06 822.60 1362.16" stroke="#7030a0" stroke-width="2.9" fill="none" stroke-linejoin="round" stroke-linecap="round"/>
<circle cx="132.52" cy="1085.71" r="5.0" fill="#7030a0"/>
<circle cx="168.84" cy="1119.29" r="5.0" fill="#7030a0"/>
<circle cx="205.16" cy="1171.12" r="5.0" fill="#7030a0"/>
<circle cx="241.48" cy="1203.24" r="5.0" fill="#7030a0"/>
<circle cx="277.80" cy="1239.89" r="5.0" fill="#7030a0"/>
<circle cx="314.12" cy="1261.71" r="5.0" fill="#7030a0"/>
<circle cx="350.44" cy="1282.85" r="5.0" fill="#7030a0"/>
<circle cx="386.76" cy="1305.08" r="5.0" fill="#7030a0"/>
<circle cx="423.08" cy="1312.38" r="5.0" fill="#7030a0"/>
<circle cx="459.40" cy="1333.80" r="5.0" fill="#7030a0"/>
<circle cx="495.72" cy="1341.21" r="5.0" fill="#7030a0"/>
<circle cx="532.04" cy="1348.14" r="5.0" fill="#7030a0"/>
<circle cx="568.36" cy="1349.50" r="5.0" fill="#7030a0"/>
<circle cx="604.68" cy="1355.44" r="5.0" fill="#7030a0"/>
<circle cx="641.00" cy="1358.15" r="5.0" fill="#7030a0"/>
<circle cx="677.32" cy="1359.20" r="5.0" fill="#7030a0"/>
<circle cx="713.64" cy="1359.86" r="5.0" fill="#7030a0"/>
<circle cx="749.96" cy="1360.92" r="5.0" fill="#7030a0"/>
<circle cx="786.28" cy="1361.54" r="5.0" fill="#7030a0"/>
<circle cx="822.60" cy="1362.16" r="5.0" fill="#7030a0"/>
<path d="M132.52 1286.10C138.57 1281.19 156.73 1269.24 168.84 1256.68C180.95 1244.11 193.05 1222.27 205.16 1210.69C217.27 1199.10 229.37 1196.39 241.48 1187.18C253.59 1177.97 265.69 1162.72 277.80 1155.42C289.91 1148.12 302.01 1147.58 314.12 1143.38C326.23 1139.18 338.33 1135.78 350.44 1130.24C362.55 1124.70 374.65 1113.39 386.76 1110.16C398.87 1106.94 410.97 1112.76 423.08 1110.89C435.19 1109.03 447.29 1101.22 459.40 1099.00C471.51 1096.77 483.61 1097.54 495.72 1097.54C507.83 1097.54 519.93 1098.02 532.04 1099.00C544.15 1099.98 556.25 1102.36 568.36 1103.41C580.47 1104.46 592.57 1104.25 604.68 1105.31C616.79 1106.38 628.89 1107.70 641.00 1109.80C653.11 1111.90 665.21 1115.82 677.32 1117.90C689.43 1119.98 701.53 1120.50 713.64 1122.28C725.75 1124.07 737.85 1126.78 749.96 1128.60C762.07 1130.41 774.17 1131.41 786.28 1133.16C798.39 1134.91 816.55 1138.12 822.60 1139.11" stroke="#7878fc" stroke-width="2.9" fill="none" stroke-linejoin="round" stroke-linecap="round"/>
<circle cx="132.52" cy="1286.10" r="5.0" fill="#7878fc"/>
<circle cx="168.84" cy="1256.68" r="5.0" fill="#7878fc"/>
<circle cx="205.16" cy="1210.69" r="5.0" fill="#7878fc"/>
<circle cx="241.48" cy="1187.18" r="5.0" fill="#7878fc"/>
<circle cx="277.80" cy="1155.42" r="5.0" fill="#7878fc"/>
<circle cx="314.12" cy="1143.38" r="5.0" fill="#7878fc"/>
<circle cx="350.44" cy="1130.24" r="5.0" fill="#7878fc"/>
<circle cx="386.76" cy="1110.16" r="5.0" fill="#7878fc"/>
<circle cx="423.08" cy="1110.89" r="5.0" fill="#7878fc"/>
<circle cx="459.40" cy="1099.00" r="5.0" fill="#7878fc"/>
<circle cx="495.72" cy="1097.54" r="5.0" fill="#7878fc"/>
<circle cx="532.04" cy="1099.00" r="5.0" fill="#7878fc"/>
<circle cx="568.36" cy="1103.41" r="5.0" fill="#7878fc"/>
<circle cx="604.68" cy="1105.31" r="5.0" fill="#7878fc"/>
<circle cx="641.00" cy="1109.80" r="5.0" fill="#7878fc"/>
<circle cx="677.32" cy="1117.90" r="5.0" fill="#7878fc"/>
<circle cx="713.64" cy="1122.28" r="5.0" fill="#7878fc"/>
<circle cx="749.96" cy="1128.60" r="5.0" fill="#7878fc"/>
<circle cx="786.28" cy="1133.16" r="5.0" fill="#7878fc"/>
<circle cx="822.60" cy="1139.11" r="5.0" fill="#7878fc"/>
<path d="M132.52 1358.73C138.57 1358.09 156.73 1356.60 168.84 1354.90C180.95 1353.19 193.05 1350.97 205.16 1348.51C217.27 1346.05 229.37 1342.24 241.48 1340.12C253.59 1337.99 265.69 1338.02 277.80 1335.73C289.91 1333.45 302.01 1329.35 314.12 1326.39C326.23 1323.43 338.33 1319.97 350.44 1318.00C362.55 1316.02 374.65 1316.29 386.76 1314.57C398.87 1312.84 410.97 1310.55 423.08 1307.63C435.19 1304.71 447.29 1299.82 459.40 1297.05C471.51 1294.27 483.61 1293.33 495.72 1290.99C507.83 1288.64 519.93 1285.37 532.04 1282.99C544.15 1280.61 556.25 1278.98 568.36 1276.71C580.47 1274.45 592.57 1271.87 604.68 1269.41C616.79 1266.96 628.89 1264.74 641.00 1262.00C653.11 1259.27 665.21 1255.39 677.32 1252.99C689.43 1250.59 701.53 1249.72 713.64 1247.59C725.75 1245.46 737.85 1242.28 749.96 1240.21C762.07 1238.15 774.17 1237.10 786.28 1235.18C798.39 1233.26 816.55 1229.76 822.60 1228.68" stroke="#70ad47" stroke-width="2.9" fill="none" stroke-linejoin="round" stroke-linecap="round"/>
<circle cx="132.52" cy="1358.73" r="5.0" fill="#70ad47"/>
<circle cx="168.84" cy="1354.90" r="5.0" fill="#70ad47"/>
<circle cx="205.16" cy="1348.51" r="5.0" fill="#70ad47"/>
<circle cx="241.48" cy="1340.12" r="5.0" fill="#70ad47"/>
<circle cx="277.80" cy="1335.73" r="5.0" fill="#70ad47"/>
<circle cx="314.12" cy="1326.39" r="5.0" fill="#70ad47"/>
<circle cx="350.44" cy="1318.00" r="5.0" fill="#70ad47"/>
<circle cx="386.76" cy="1314.57" r="5.0" fill="#70ad47"/>
<circle cx="423.08" cy="1307.63" r="5.0" fill="#70ad47"/>
<circle cx="459.40" cy="1297.05" r="5.0" fill="#70ad47"/>
<circle cx="495.72" cy="1290.99" r="5.0" fill="#70ad47"/>
<circle cx="532.04" cy="1282.99" r="5.0" fill="#70ad47"/>
<circle cx="568.36" cy="1276.71" r="5.0" fill="#70ad47"/>
<circle cx="604.68" cy="1269.41" r="5.0" fill="#70ad47"/>
<circle cx="641.00" cy="1262.00" r="5.0" fill="#70ad47"/>
<circle cx="677.32" cy="1252.99" r="5.0" fill="#70ad47"/>
<circle cx="713.64" cy="1247.59" r="5.0" fill="#70ad47"/>
<circle cx="749.96" cy="1240.21" r="5.0" fill="#70ad47"/>
<circle cx="786.28" cy="1235.18" r="5.0" fill="#70ad47"/>
<circle cx="822.60" cy="1228.68" r="5.0" fill="#70ad47"/>
<path d="M132.52 1000.66C138.57 1000.66 156.73 1000.66 168.84 1000.66C180.95 1000.66 193.05 1000.66 205.16 1000.66C217.27 1000.66 229.37 1000.66 241.48 1000.66C253.59 1000.66 265.69 1000.66 277.80 1000.66C289.91 1000.66 302.01 1000.66 314.12 1000.66C326.23 1000.66 338.33 1000.66 350.44 1000.66C362.55 1000.66 374.65 1000.66 386.76 1000.66C398.87 1000.66 410.97 1000.60 423.08 1000.66C435.19 1000.73 447.29 1001.09 459.40 1001.03C471.51 1000.97 483.61 999.93 495.72 1000.30C507.83 1000.66 519.93 1003.10 532.04 1003.22C544.15 1003.34 556.25 1001.12 568.36 1001.03C580.47 1000.94 592.57 1002.31 604.68 1002.67C616.79 1003.04 628.89 1003.62 641.00 1003.22C653.11 1002.82 665.21 1000.66 677.32 1000.30C689.43 999.93 701.53 1000.91 713.64 1001.03C725.75 1001.15 737.85 1001.09 749.96 1001.03C762.07 1000.97 774.17 1000.79 786.28 1000.66C798.39 1000.54 816.55 1000.36 822.60 1000.30" stroke="#ffc000" stroke-width="2.9" fill="none" stroke-linejoin="round" stroke-linecap="round"/>
<circle cx="132.52" cy="1000.66" r="5.0" fill="#ffc000"/>
<circle cx="168.84" cy="1000.66" r="5.0" fill="#ffc000"/>
<circle cx="205.16" cy="1000.66" r="5.0" fill="#ffc000"/>
<circle cx="241.48" cy="1000.66" r="5.0" fill="#ffc000"/>
<circle cx="277.80" cy="1000.66" r="5.0" fill="#ffc000"/>
<circle cx="314.12" cy="1000.66" r="5.0" fill="#ffc000"/>
<circle cx="350.44" cy="1000.66" r="5.0" fill="#ffc000"/>
<circle cx="386.76" cy="1000.66" r="5.0" fill="#ffc000"/>
<circle cx="423.08" cy="1000.66" r="5.0" fill="#ffc000"/>
<circle cx="459.40" cy="1001.03" r="5.0" fill="#ffc000"/>
<circle cx="495.72" cy="1000.30" r="5.0" fill="#ffc000"/>
<circle cx="532.04" cy="1003.22" r="5.0" fill="#ffc000"/>
<circle cx="568.36" cy="1001.03" r="5.0" fill="#ffc000"/>
<circle cx="604.68" cy="1002.67" r="5.0" fill="#ffc000"/>
<circle cx="641.00" cy="1003.22" r="5.0" fill="#ffc000"/>
<circle cx="677.32" cy="1000.30" r="5.0" fill="#ffc000"/>
<circle cx="713.64" cy="1001.03" r="5.0" fill="#ffc000"/>
<circle cx="749.96" cy="1001.03" r="5.0" fill="#ffc000"/>
<circle cx="786.28" cy="1000.66" r="5.0" fill="#ffc000"/>
<circle cx="822.60" cy="1000.30" r="5.0" fill="#ffc000"/>
<path d="M132.52 1364.57C138.57 1364.57 156.73 1364.57 168.84 1364.57C180.95 1364.57 193.05 1364.57 205.16 1364.57C217.27 1364.57 229.37 1364.57 241.48 1364.57C253.59 1364.57 265.69 1364.57 277.80 1364.57C289.91 1364.57 302.01 1364.57 314.12 1364.57C326.23 1364.57 338.33 1364.57 350.44 1364.57C362.55 1364.57 374.65 1364.57 386.76 1364.57C398.87 1364.57 410.97 1364.57 423.08 1364.57C435.19 1364.57 447.29 1364.57 459.40 1364.57C471.51 1364.57 483.61 1365.09 495.72 1364.57C507.83 1364.05 519.93 1361.47 532.04 1361.47C544.15 1361.47 556.25 1364.53 568.36 1364.57C580.47 1364.61 592.57 1362.20 604.68 1361.72C616.79 1361.25 628.89 1361.19 641.00 1361.72C653.11 1362.26 665.21 1364.46 677.32 1364.93C689.43 1365.41 701.53 1364.63 713.64 1364.57C725.75 1364.51 737.85 1364.57 749.96 1364.57C762.07 1364.57 774.17 1364.57 786.28 1364.57C798.39 1364.57 816.55 1364.57 822.60 1364.57" stroke="#ed7d31" stroke-width="2.9" fill="none" stroke-linejoin="round" stroke-linecap="round"/>
<circle cx="132.52" cy="1364.57" r="5.0" fill="#ed7d31"/>
<circle cx="168.84" cy="1364.57" r="5.0" fill="#ed7d31"/>
<circle cx="205.16" cy="1364.57" r="5.0" fill="#ed7d31"/>
<circle cx="241.48" cy="1364.57" r="5.0" fill="#ed7d31"/>
<circle cx="277.80" cy="1364.57" r="5.0" fill="#ed7d31"/>
<circle cx="314.12" cy="1364.57" r="5.0" fill="#ed7d31"/>
<circle cx="350.44" cy="1364.57" r="5.0" fill="#ed7d31"/>
<circle cx="386.76" cy="1364.57" r="5.0" fill="#ed7d31"/>
<circle cx="423.08" cy="1364.57" r="5.0" fill="#ed7d31"/>
<circle cx="459.40" cy="1364.57" r="5.0" fill="#ed7d31"/>
<circle cx="495.72" cy="1364.57" r="5.0" fill="#ed7d31"/>
<circle cx="532.04" cy="1361.47" r="5.0" fill="#ed7d31"/>
<circle cx="568.36" cy="1364.57" r="5.0" fill="#ed7d31"/>
<circle cx="604.68" cy="1361.72" r="5.0" fill="#ed7d31"/>
<circle cx="641.00" cy="1361.72" r="5.0" fill="#ed7d31"/>
<circle cx="677.32" cy="1364.93" r="5.0" fill="#ed7d31"/>
<circle cx="713.64" cy="1364.57" r="5.0" fill="#ed7d31"/>
<circle cx="749.96" cy="1364.57" r="5.0" fill="#ed7d31"/>
<circle cx="786.28" cy="1364.57" r="5.0" fill="#ed7d31"/>
<circle cx="822.60" cy="1364.57" r="5.0" fill="#ed7d31"/>
<path d="M150.2 1455.3h33.6" stroke="#7030a0" stroke-width="2.9" stroke-linecap="round"/>
<circle cx="167.0" cy="1455.3" r="5.0" fill="#7030a0"/>
<text x="188.3" y="1461.5" font-size="19.7" fill="#111" stroke="#111" stroke-width="0.1" textLength="125.2" lengthAdjust="spacingAndGlyphs">all-L-Asp 1-38</text>
<path d="M381.2 1455.3h33.6" stroke="#7878fc" stroke-width="2.9" stroke-linecap="round"/>
<circle cx="398.0" cy="1455.3" r="5.0" fill="#7878fc"/>
<text x="419.3" y="1461.5" font-size="19.7" fill="#111" stroke="#111" stroke-width="0.1" textLength="125.2" lengthAdjust="spacingAndGlyphs">all-L-Asp 5-38</text>
<path d="M610.8 1455.3h33.6" stroke="#70ad47" stroke-width="2.9" stroke-linecap="round"/>
<circle cx="627.6" cy="1455.3" r="5.0" fill="#70ad47"/>
<text x="648.9" y="1461.5" font-size="19.7" fill="#111" stroke="#111" stroke-width="0.1" textLength="125.2" lengthAdjust="spacingAndGlyphs">all-L-Asp 5-25</text>
<path d="M150.2 1488.6h33.6" stroke="#ffc000" stroke-width="2.9" stroke-linecap="round"/>
<circle cx="167.0" cy="1488.6" r="5.0" fill="#ffc000"/>
<text x="188.3" y="1494.8" font-size="19.7" fill="#111" stroke="#111" stroke-width="0.1" textLength="150.4" lengthAdjust="spacingAndGlyphs">all-L-isoAsp 1-38</text>
<path d="M381.2 1488.6h33.6" stroke="#ed7d31" stroke-width="2.9" stroke-linecap="round"/>
<circle cx="398.0" cy="1488.6" r="5.0" fill="#ed7d31"/>
<text x="419.3" y="1494.8" font-size="19.7" fill="#111" stroke="#111" stroke-width="0.1" textLength="150.4" lengthAdjust="spacingAndGlyphs">all-L-isoAsp 5-38</text>
</svg>
</body>
</html>
